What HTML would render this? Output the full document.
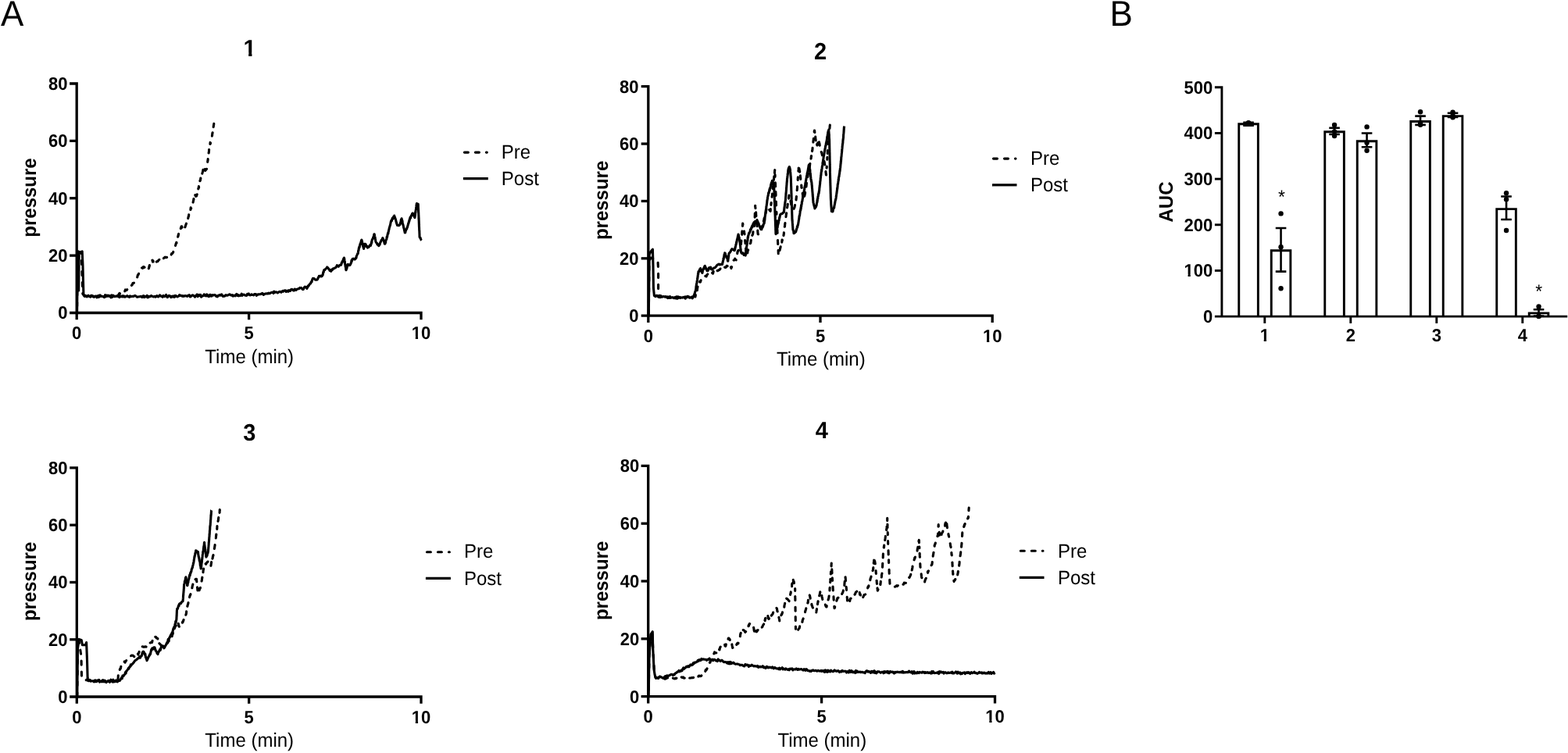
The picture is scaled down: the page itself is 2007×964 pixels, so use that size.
<!DOCTYPE html>
<html><head><meta charset="utf-8"><title>Figure</title>
<style>
html,body{margin:0;padding:0;background:#fff;}
body{width:2007px;height:964px;overflow:hidden;}
svg{display:block;}
svg text{font-family:"Liberation Sans", Arial, sans-serif;fill:#000;text-rendering:geometricPrecision;}
</style></head>
<body>
<svg width="2007" height="964" viewBox="0 0 2007 964">
<rect x="0" y="0" width="2007" height="964" fill="#fff"/>
<text font-size="44" text-anchor="start" transform="translate(1.1 33) scale(1 1.045)">A</text>
<text font-size="44" text-anchor="start" transform="translate(1420.4 32.7) scale(1 1.045)">B</text>
<path d="M89.1 107 L98.2 107 L98.2 409.3" fill="none" stroke="#000" stroke-width="3.3" stroke-linejoin="miter" stroke-linecap="butt"/>
<path d="M89.1 400.5 L539 400.5 L539 409.3" fill="none" stroke="#000" stroke-width="3.3" stroke-linejoin="miter" stroke-linecap="butt"/>
<path d="M89.1 327.12 L98.2 327.12" stroke="#000" stroke-width="3.3"/>
<path d="M89.1 253.75 L98.2 253.75" stroke="#000" stroke-width="3.3"/>
<path d="M89.1 180.38 L98.2 180.38" stroke="#000" stroke-width="3.3"/>
<path d="M318.6 400.5 L318.6 409.3" stroke="#000" stroke-width="3.3"/>
<text font-size="22" font-weight="bold" text-anchor="end" transform="translate(86.6 408.4) scale(1 1.045)">0</text>
<text font-size="22" font-weight="bold" text-anchor="end" transform="translate(86.6 335.02) scale(1 1.045)">20</text>
<text font-size="22" font-weight="bold" text-anchor="end" transform="translate(86.6 261.65) scale(1 1.045)">40</text>
<text font-size="22" font-weight="bold" text-anchor="end" transform="translate(86.6 188.28) scale(1 1.045)">60</text>
<text font-size="22" font-weight="bold" text-anchor="end" transform="translate(86.6 114.9) scale(1 1.045)">80</text>
<text font-size="22" font-weight="bold" text-anchor="middle" transform="translate(98.2 434) scale(1 1.045)">0</text>
<text font-size="22" font-weight="bold" text-anchor="middle" transform="translate(318.6 434) scale(1 1.045)">5</text>
<text font-size="22" font-weight="bold" text-anchor="middle" transform="translate(539 434) scale(1 1.045)">10</text>
<text font-size="29" font-weight="bold" text-anchor="middle" transform="translate(319.6 71.9) scale(1 1.045)">1</text>
<text font-size="24" font-weight="bold" text-anchor="middle" transform="translate(46.4 253) rotate(-90) scale(1 1.045)">pressure</text>
<text font-size="24" text-anchor="middle" transform="translate(319.2 465) scale(1 1.045)">Time (min)</text>
<path d="M594.4 195.1 L623.3 195.1" stroke="#000" stroke-width="3.1" stroke-dasharray="5 9" stroke-linecap="round"/>
<path d="M592.9 228.7 L624.8 228.7" stroke="#000" stroke-width="3.2"/>
<text font-size="24" text-anchor="start" transform="translate(641.8 203.2) scale(1 1.045)">Pre</text>
<text font-size="24" text-anchor="start" transform="translate(641.8 236.8) scale(1 1.045)">Post</text>
<path d="M98.6 400.5 L99.5 323 L100.2 321.8 L100.7 372 L101.2 323 L102.5 323.5 L105.2 321.8 L106 340 L106.9 376.4 L108.5 379.2 L109.41 378.28 L110.31 379.48 L111.22 379.95 L112.12 378.82 L113.03 378.2 L113.94 379.15 L114.84 379.56 L115.75 380.02 L116.65 378.29 L117.56 378.23 L118.47 379.73 L119.37 379.56 L120.28 380.35 L121.18 379.94 L122.09 379.12 L123 378.99 L123.9 380.85 L124.81 378.98 L125.71 378.61 L126.62 378.35 L127.52 379.27 L128.43 379.31 L129.34 378.94 L130.24 379.15 L131.15 379.4 L132.05 379.72 L132.96 380.02 L133.87 379.36 L134.77 377.86 L135.68 379.73 L136.58 378.14 L137.49 379.07 L138.4 378.09 L139.3 379.2 L140.21 378.62 L141.11 379.36 L142.02 380.85 L142.93 379.16 L143.83 379.83 L144.74 378.21 L145.64 378.98 L146.55 379.7 L147.46 379.13 L148.36 379.48 L149.27 379.28 L150.17 378.45 L151.08 379.62 L151.99 378.59 L152.89 380.6 L153.8 378.82 L154.7 379.71 L155.61 379.2 L156.51 379.91 L157.42 378.75 L158.33 379.95 L159.23 379.11 L160.14 380.15 L161.04 379.67 L161.95 379.31 L162.86 378.61 L163.76 379.78 L164.67 379.55 L165.57 380.43 L166.48 378.92 L167.39 379.62 L168.29 379.58 L169.2 379.41 L170.1 379.36 L171.01 379.34 L171.92 378.75 L172.82 378.44 L173.73 378.9 L174.63 379.64 L175.54 380.33 L176.45 379.93 L177.35 379.99 L178.26 379.78 L179.16 379.72 L180.07 379.34 L180.98 379.78 L181.88 380.53 L182.79 378.95 L183.69 378.68 L184.6 380.67 L185.5 379.38 L186.41 379.93 L187.32 379.86 L188.22 378.35 L189.13 380.85 L190.03 380.53 L190.94 379.33 L191.85 379.76 L192.75 379.3 L193.66 378.54 L194.56 379.12 L195.47 379.48 L196.38 380.04 L197.28 379.73 L198.19 379.24 L199.09 380.22 L200 379.2 L200.9 378.62 L201.8 379.77 L202.7 380 L203.6 378.94 L204.5 377.81 L205.4 378.46 L206.3 379.31 L207.2 379.52 L208.1 380.27 L209 378.35 L209.9 379.09 L210.8 379.57 L211.7 378.95 L212.6 377.41 L213.5 379.65 L214.4 380.69 L215.3 379.78 L216.2 378.33 L217.1 378.7 L218 379.17 L218.9 380.64 L219.8 379.44 L220.7 379.06 L221.6 380.13 L222.5 378.89 L223.4 380.34 L224.3 378.42 L225.2 378.56 L226.1 379.45 L227 379.97 L227.9 379.38 L228.8 379.11 L229.7 377.5 L230.6 378.33 L231.5 378.39 L232.4 378.44 L233.3 379.27 L234.2 378.57 L235.1 379.4 L236 378.86 L236.9 378.54 L237.8 378.87 L238.7 379.09 L239.6 379.4 L240.5 378.39 L241.4 378.57 L242.3 377.71 L243.2 379.92 L244.1 379.8 L245 378.57 L245.9 378.33 L246.8 377.75 L247.7 378.8 L248.6 378.81 L249.5 380.29 L250.4 378.82 L251.3 378.05 L252.2 376.97 L253.1 379.67 L254 378.74 L254.9 377.38 L255.8 378.72 L256.7 377.36 L257.6 380.21 L258.5 379.39 L259.4 378.97 L260.3 378.4 L261.2 376.92 L262.1 378.42 L263 377.33 L263.9 378.94 L264.8 376.88 L265.7 377.79 L266.6 379.37 L267.5 379.68 L268.4 377.55 L269.3 377.28 L270.2 379.08 L271.1 379.05 L272 377.66 L272.9 377.87 L273.8 377.86 L274.7 377.48 L275.6 377.85 L276.5 379.29 L277.4 378.86 L278.3 379.87 L279.2 378.26 L280.1 378.21 L281 377.56 L281.9 378.2 L282.8 377.3 L283.7 376.94 L284.6 378.78 L285.5 379.33 L286.4 378.87 L287.3 379.23 L288.2 378.41 L289.1 377.67 L290 378.2 L290.91 378.24 L291.83 377.88 L292.74 377.3 L293.66 376.85 L294.57 376.98 L295.49 378.07 L296.4 378.17 L297.32 377.68 L298.23 379.09 L299.15 378.13 L300.06 378.41 L300.98 378.87 L301.89 377.32 L302.81 376.43 L303.72 378.46 L304.64 377.35 L305.55 378.83 L306.46 378.08 L307.38 378.56 L308.29 378.36 L309.21 376.21 L310.12 378.29 L311.04 377.22 L311.95 377.14 L312.87 377.36 L313.78 378.24 L314.7 378.31 L315.61 378.38 L316.53 376.36 L317.44 377.14 L318.36 375.91 L319.27 377.46 L320.19 377.97 L321.1 377.5 L322 376.86 L322.91 377.54 L323.81 377.46 L324.72 377.98 L325.62 376.54 L326.53 376.46 L327.43 376.44 L328.33 378.26 L329.24 377.69 L330.14 376.71 L331.05 376.9 L331.95 376.75 L332.86 376.75 L333.76 376.37 L334.67 376.21 L335.57 375.44 L336.47 375.84 L337.38 377.49 L338.28 376.58 L339.19 376.16 L340.09 375.88 L341 376.02 L341.9 375.9 L342.8 376.05 L343.7 375.18 L344.6 375.7 L345.5 375.61 L346.4 374.75 L347.3 374.6 L348.2 374.33 L349.1 374.16 L350 375.51 L350.9 373.08 L351.8 374.41 L352.7 374.03 L353.6 373.91 L354.5 374.33 L355.4 374.99 L356.3 374.08 L357.2 373.8 L358.1 373.33 L359 373.57 L359.9 374.24 L360.8 373.14 L361.7 372.46 L362.6 373.2 L363.52 372.11 L364.44 372.09 L365.35 371.73 L366.27 373.46 L367.19 372.76 L368.11 372.17 L369.02 373.31 L369.94 371.58 L370.86 372.49 L371.78 372.39 L372.69 370.49 L373.61 370.34 L374.53 370.67 L375.45 371.9 L376.36 372.05 L377.28 370.02 L378.2 370.8 L379.12 371.4 L380.04 370.14 L380.95 369.94 L381.87 369.63 L382.79 369.62 L383.71 368.31 L384.62 368.73 L385.54 368.37 L386.46 369.47 L387.38 370.48 L388.29 370.38 L389.21 368.29 L390.13 367.06 L391.05 367.86 L391.96 367.27 L392.88 369.28 L393.8 367.6 L394.42 365.73 L395.04 366.04 L395.66 364.83 L396.28 363.82 L396.9 363.3 L397.41 363.13 L397.92 361.65 L398.44 360.56 L398.95 361.16 L399.46 358.7 L399.98 357.32 L400.49 356.39 L401 356.5 L402.05 356.53 L403.1 357.76 L404.15 358.3 L405.2 358.1 L405.72 358.11 L406.23 357.83 L406.75 356.96 L407.27 355.43 L407.78 355.14 L408.3 353.4 L409.32 353.88 L410.35 353.03 L411.38 354.01 L412.4 353.4 L412.66 352.57 L412.92 351.49 L413.19 352.14 L413.45 350.38 L413.71 348.59 L413.98 347.98 L414.24 348.64 L414.5 346.2 L415.2 345.36 L415.9 345.36 L416.6 344.58 L417.3 343.8 L418 343.15 L418.7 342 L419.38 342.48 L420.07 343.28 L420.75 344.28 L421.43 344.92 L422.12 346.53 L422.8 346.7 L423.67 347.32 L424.53 345.08 L425.4 345.58 L426.27 343.98 L427.13 343.66 L428 343.6 L428.84 342.85 L429.68 342.48 L430.52 341.47 L431.36 339.58 L432.2 340.5 L433.23 341.25 L434.25 339.8 L435.27 339.26 L436.3 339.4 L436.68 339.08 L437.06 337.32 L437.45 335.89 L437.83 336.4 L438.21 335.51 L438.59 333.78 L438.97 334.12 L439.35 332.94 L439.74 331.02 L440.12 332.23 L440.5 330.1 L440.65 331.25 L440.79 331.17 L440.94 333.21 L441.09 333.9 L441.24 335.42 L441.38 334.69 L441.53 337.3 L441.68 338.15 L441.82 338.89 L441.97 339.75 L442.12 341.17 L442.26 341.66 L442.41 342.16 L442.56 342.39 L442.71 344.69 L442.85 345.52 L443 345.7 L443.32 345.04 L443.65 344.02 L443.98 343.51 L444.3 340.51 L444.62 341.4 L444.95 338.68 L445.28 339.52 L445.6 338.4 L446.63 339.15 L447.67 339.71 L448.7 338.3 L449.01 337.15 L449.32 336.94 L449.64 335.74 L449.95 333.36 L450.26 334.6 L450.57 333.22 L450.89 332.43 L451.2 331.5 L452.23 331.07 L453.27 331.9 L454.3 332.1 L454.71 331.36 L455.12 331.38 L455.53 329.84 L455.94 330.31 L456.36 327.68 L456.77 326.95 L457.18 326.26 L457.59 324.89 L458 324.6 L458.21 324.74 L458.42 323.16 L458.63 320.83 L458.84 320.84 L459.06 320.62 L459.27 317.83 L459.48 317.97 L459.69 316.73 L459.9 315.9 L460.21 316.57 L460.52 314.49 L460.83 313.03 L461.14 312.05 L461.45 312.92 L461.76 310.38 L462.07 311.35 L462.38 307.86 L462.69 307.97 L463 307.2 L463.21 308 L463.42 308.6 L463.62 309.88 L463.83 311.46 L464.04 311.43 L464.25 311.82 L464.46 314.72 L464.67 315.74 L464.88 315.14 L465.08 316.78 L465.29 315.93 L465.5 318.4 L465.69 318.29 L465.87 315.72 L466.06 315.38 L466.24 316.4 L466.43 313.11 L466.61 313.13 L466.8 312.2 L467.42 312.31 L468.03 312.59 L468.65 313.91 L469.27 315.76 L469.88 315.47 L470.5 317.2 L471.24 316.19 L471.98 316.51 L472.72 315.26 L473.46 313.82 L474.2 314.1 L474.51 314.3 L474.82 312.43 L475.14 312.45 L475.45 309.81 L475.76 310.86 L476.07 307.81 L476.39 306.64 L476.7 306.68 L477.01 305.82 L477.32 305.38 L477.64 303.9 L477.95 303.86 L478.26 303.46 L478.57 301.16 L478.89 299.75 L479.2 299.8 L479.37 300.45 L479.55 302.21 L479.72 303.11 L479.89 303.19 L480.06 303.63 L480.24 305.22 L480.41 306.82 L480.58 306.53 L480.75 308.85 L480.93 308.99 L481.1 309.7 L481.72 310.77 L482.33 310.95 L482.95 313.2 L483.57 313.1 L484.18 312.84 L484.8 314.7 L485.22 314.48 L485.63 312.77 L486.05 313 L486.47 311.52 L486.88 310.12 L487.3 309.85 L487.72 308.55 L488.13 307.48 L488.55 307.25 L488.97 306.99 L489.38 305.62 L489.8 304.7 L490.14 305.5 L490.49 306 L490.83 307.64 L491.18 308.26 L491.52 309.58 L491.87 309.99 L492.21 312.07 L492.56 310.28 L492.9 312.2 L493.14 311.33 L493.39 310.88 L493.63 310.27 L493.88 307.68 L494.12 307.03 L494.37 307 L494.61 306.91 L494.86 306.08 L495.1 303.35 L495.34 303.66 L495.59 303.53 L495.83 301.85 L496.08 300.23 L496.32 299.59 L496.57 298.28 L496.81 299.21 L497.06 297.31 L497.3 296.6 L497.52 295.4 L497.74 294.15 L497.96 293.75 L498.19 292.27 L498.41 291.29 L498.63 291.03 L498.85 289.97 L499.07 289.53 L499.29 288.38 L499.51 288.18 L499.74 286.38 L499.96 285.67 L500.18 284.72 L500.4 283.6 L500.88 282.22 L501.36 282.8 L501.83 280.73 L502.31 279.18 L502.79 280.35 L503.27 279.09 L503.74 277.4 L504.22 277.64 L504.7 276.1 L504.97 277.7 L505.24 278.4 L505.51 277.96 L505.79 279.8 L506.06 279.82 L506.33 281.01 L506.6 281.93 L506.87 282.62 L507.14 284.45 L507.41 284.43 L507.69 286.31 L507.96 286.88 L508.23 287.21 L508.5 288.5 L509.53 288.45 L510.57 288.62 L511.6 287.9 L511.88 287.84 L512.16 285.95 L512.43 286.46 L512.71 284.73 L512.99 284.31 L513.27 281.57 L513.54 280.88 L513.82 281.58 L514.1 279.8 L514.32 280.58 L514.53 281.97 L514.75 283.39 L514.96 282.43 L515.17 284.67 L515.39 286.63 L515.61 286.73 L515.82 287.13 L516.03 288.37 L516.25 288.88 L516.47 290.33 L516.68 291.61 L516.89 291.43 L517.11 292.91 L517.33 293.62 L517.54 294.83 L517.75 295.8 L517.97 295.36 L518.18 297.85 L518.4 297.9 L518.79 297.68 L519.17 295.43 L519.56 295.14 L519.95 293.45 L520.34 293.41 L520.73 292.99 L521.11 291.07 L521.5 291 L521.76 289.55 L522.02 288.54 L522.27 287.74 L522.53 286.75 L522.79 285.61 L523.05 285.83 L523.31 284.34 L523.57 282.98 L523.83 283.33 L524.08 281.3 L524.34 281.39 L524.6 279.8 L525.08 278.11 L525.55 279.12 L526.02 276.96 L526.5 275.76 L526.98 275.87 L527.45 273.79 L527.92 273.12 L528.4 273 L528.82 274.13 L529.23 274.55 L529.65 276.11 L530.07 276.86 L530.48 277.87 L530.9 278.6 L531.02 277.82 L531.15 277.32 L531.27 275.91 L531.4 275.79 L531.52 274.77 L531.65 271.81 L531.77 271.06 L531.9 272.48 L532.02 270.17 L532.15 269.71 L532.27 268.59 L532.4 267.96 L532.52 268.38 L532.65 265.46 L532.77 265.1 L532.9 264.15 L533.02 262.48 L533.15 261.72 L533.27 261.24 L533.4 260.5 L534.3 260.87 L535.2 261.2 L535.24 262.4 L535.28 261.65 L535.32 262.82 L535.36 265.99 L535.4 265.6 L535.44 267.21 L535.48 267.23 L535.52 267.93 L535.56 270.82 L535.6 269.36 L535.64 270.49 L535.69 272.5 L535.73 272.94 L535.77 272.67 L535.81 274.83 L535.85 276.14 L535.89 275.45 L535.93 277.03 L535.97 278.88 L536.01 280.57 L536.05 278.56 L536.09 280.54 L536.13 281.94 L536.17 282.18 L536.21 283.09 L536.25 284.27 L536.29 285.89 L536.33 285.68 L536.37 287.94 L536.41 288.81 L536.45 289.72 L536.49 291.11 L536.53 290.56 L536.57 291.79 L536.61 293.43 L536.66 294.52 L536.7 295.19 L536.74 295.11 L536.78 295.98 L536.82 296.3 L536.86 297.82 L536.9 298.4 L536.94 299.58 L536.98 300.56 L537.02 302.31 L537.06 303.23 L537.1 303.5 L537.6 304.35 L538.1 304.44 L538.6 306.07 L539.1 307.27 L539.6 307.8" fill="none" stroke="#000" stroke-width="3.1" stroke-linejoin="round"/>
<path d="M98.6 400.5 L99.2 336 L100.2 322.5 L103.6 322.5 L104.6 336 L105.8 376 L108 379.2 L108.91 379.14 L109.83 380.34 L110.74 378.61 L111.65 377.86 L112.57 379.41 L113.48 379.7 L114.39 379.52 L115.3 379.63 L116.22 379.16 L117.13 378.81 L118.04 378.69 L118.96 379.1 L119.87 378.98 L120.78 379.97 L121.7 379.74 L122.61 378.32 L123.52 379.8 L124.43 379.25 L125.35 380.12 L126.26 380.41 L127.17 379.7 L128.09 377.94 L129 379.77 L129.91 378.1 L130.83 380.47 L131.74 378.78 L132.65 379.14 L133.57 380.66 L134.48 377.95 L135.39 379.3 L136.3 378.47 L137.22 378.89 L138.13 378.68 L139.04 379.8 L139.96 379.05 L140.87 379.55 L141.78 379.77 L142.7 377.98 L143.61 380.34 L144.52 379.1 L145.43 378.03 L146.35 378.78 L147.26 379.95 L148.17 380.04 L149.09 378.76 L150 379.2 L150.74 379.41 L151.48 378.6 L152.22 376.32 L152.96 375.28 L153.7 376 L154.52 375.3 L155.35 375.28 L156.18 374.02 L157 373.5 L157.86 372.08 L158.72 372.35 L159.58 373.3 L160.44 370.93 L161.3 371.5 L162.04 371.63 L162.78 370.67 L163.52 370.04 L164.26 369.64 L165 368.5 L165.8 367.42 L166.6 367.02 L167.4 367.66 L168.2 365.43 L169 365 L169.5 363.95 L170 362.51 L170.5 362.41 L171 362.5 L171.5 362.11 L172 360.93 L172.5 360.17 L173 359.38 L173.5 358.45 L174 358.17 L174.5 356.61 L175 356.7 L175.5 355.2 L175.89 354.3 L176.29 352.38 L176.68 351.74 L177.07 351.64 L177.46 350.6 L177.86 349.22 L178.25 348.67 L178.64 348.47 L179.04 347.77 L179.43 347.22 L179.82 345.18 L180.21 345.18 L180.61 344.78 L181 343.2 L181.83 342.88 L182.67 343.29 L183.5 341.5 L184.47 341.74 L185.43 342.63 L186.4 343.2 L187.06 343.97 L187.72 344.2 L188.38 345.09 L189.04 345.92 L189.7 346.4 L189.96 345.45 L190.21 344.19 L190.47 343.29 L190.72 342.62 L190.98 340.68 L191.23 340.93 L191.49 339.11 L191.74 338.77 L192 338 L192.43 336.3 L192.87 336.17 L193.3 334.89 L193.73 334.02 L194.17 332.74 L194.6 332.3 L195.05 333.28 L195.5 335.2 L195.95 333.76 L196.4 336.26 L196.85 336.96 L197.3 337.7 L198.04 336.8 L198.78 335.55 L199.52 336.87 L200.26 335.27 L201 334.5 L201.97 334.64 L202.95 333.15 L203.93 332.33 L204.9 332.3 L205.45 334.14 L206 334.5 L206.73 334.27 L207.47 332.83 L208.2 332.15 L208.93 332 L209.67 330.29 L210.4 330.1 L211.3 329.16 L212.2 329.34 L213.1 329.69 L214 329.22 L214.9 328.4 L215.8 327.9 L216.59 328.21 L217.37 326.57 L218.16 325.72 L218.94 326.98 L219.73 324.49 L220.51 324.63 L221.3 323.6 L221.61 323.13 L221.91 321.97 L222.22 321.19 L222.53 320.65 L222.84 319.7 L223.14 318.06 L223.45 317.61 L223.76 317.7 L224.06 316.39 L224.37 314.74 L224.68 314.22 L224.99 312.64 L225.29 311.58 L225.6 311.6 L225.82 310.37 L226.04 310.95 L226.26 308.56 L226.48 306.77 L226.7 307.16 L226.92 305.9 L227.14 306 L227.36 305.47 L227.58 303.52 L227.8 302.96 L228.02 301.39 L228.24 301.95 L228.46 299.76 L228.68 299.4 L228.9 298.5 L229.22 299.17 L229.54 296.13 L229.86 296.01 L230.18 294.99 L230.5 294.48 L230.82 293.61 L231.14 293.43 L231.46 291.88 L231.78 291.09 L232.1 289.8 L232.65 289.7 L233.2 291.55 L233.75 291.1 L234.3 293.57 L234.85 293.44 L235.4 294.2 L235.74 294.03 L236.08 292.2 L236.42 291.85 L236.75 290.91 L237.09 290.4 L237.43 289.11 L237.77 287.94 L238.11 287.25 L238.45 286.22 L238.78 285.2 L239.12 284.16 L239.46 283.15 L239.8 283.3 L240.02 283.64 L240.24 280.9 L240.45 279.69 L240.67 280.17 L240.89 278.73 L241.11 277.49 L241.33 277.4 L241.55 276.94 L241.76 274.14 L241.98 274.73 L242.2 272.8 L242.52 272.29 L242.85 271.79 L243.17 269.73 L243.49 270.32 L243.82 269.06 L244.14 265.81 L244.46 267.32 L244.78 266.47 L245.11 263.7 L245.43 263.96 L245.75 262.71 L246.08 262.07 L246.4 261 L246.65 259.54 L246.91 259.68 L247.16 258.86 L247.42 257.4 L247.67 256.54 L247.92 254.53 L248.18 255.19 L248.43 253.07 L248.68 253.06 L248.94 251.62 L249.19 252.81 L249.45 250.4 L249.7 249.5 L250.6 251.31 L251.5 251 L251.8 249.99 L252.1 248.98 L252.4 248.51 L252.7 246.99 L253 246 L253.21 246.62 L253.41 244.05 L253.62 244.36 L253.82 241.52 L254.03 240.8 L254.24 240.94 L254.44 238.64 L254.65 240 L254.86 238.1 L255.06 236.88 L255.27 237.12 L255.48 234.63 L255.68 233.56 L255.89 231.6 L256.09 230.9 L256.3 231.3 L256.54 230.23 L256.78 228.15 L257.01 229.21 L257.25 228.5 L257.49 227.26 L257.73 224.97 L257.97 224.62 L258.2 223.39 L258.44 223.95 L258.68 223.3 L258.92 221.57 L259.16 220.9 L259.4 220.14 L259.63 219.61 L259.87 217.62 L260.11 216.71 L260.35 217.03 L260.59 215.97 L260.82 215.08 L261.06 213.92 L261.3 213 L261.55 214.45 L261.8 215.17 L262.05 215.34 L262.3 217.85 L262.55 218.34 L262.8 218.5 L263.4 217.61 L264 216.97 L264.6 216.3 L264.72 214.87 L264.84 213.45 L264.96 212.74 L265.09 211.52 L265.21 211.11 L265.33 210.83 L265.45 209.61 L265.57 207.72 L265.69 207.62 L265.81 206.37 L265.94 205.1 L266.06 205.67 L266.18 203.24 L266.3 203 L266.41 202.69 L266.51 199.97 L266.62 200.39 L266.73 198.77 L266.83 198.98 L266.94 197.66 L267.04 195.91 L267.15 195.95 L267.26 195.45 L267.36 194.55 L267.47 193.71 L267.57 191.51 L267.68 192.31 L267.79 189.48 L267.89 188.85 L268 188 L268.22 186.08 L268.44 186.11 L268.66 184.39 L268.88 184.59 L269.1 182.43 L269.32 184.06 L269.54 182.46 L269.76 182.13 L269.98 180.96 L270.2 179.39 L270.42 178.73 L270.64 177.67 L270.86 175.36 L271.08 174.97 L271.3 174.9 L271.44 173.72 L271.58 173.72 L271.72 171.19 L271.86 171.35 L271.99 169.9 L272.13 169.89 L272.27 168.98 L272.41 166.81 L272.55 165.82 L272.69 166.71 L272.83 165.5 L272.97 163.83 L273.11 163.51 L273.24 162.05 L273.38 161.41 L273.52 159.89 L273.66 159.62 L273.8 158.3" fill="none" stroke="#000" stroke-width="3.1" stroke-linejoin="round" stroke-dasharray="5 9" stroke-dashoffset="5.57" stroke-linecap="round"/>
<path d="M820.7 110.7 L829.8 110.7 L829.8 413" fill="none" stroke="#000" stroke-width="3.3" stroke-linejoin="miter" stroke-linecap="butt"/>
<path d="M820.7 404.2 L1270.2 404.2 L1270.2 413" fill="none" stroke="#000" stroke-width="3.3" stroke-linejoin="miter" stroke-linecap="butt"/>
<path d="M820.7 330.82 L829.8 330.82" stroke="#000" stroke-width="3.3"/>
<path d="M820.7 257.45 L829.8 257.45" stroke="#000" stroke-width="3.3"/>
<path d="M820.7 184.07 L829.8 184.07" stroke="#000" stroke-width="3.3"/>
<path d="M1050 404.2 L1050 413" stroke="#000" stroke-width="3.3"/>
<text font-size="22" font-weight="bold" text-anchor="end" transform="translate(817.4 412.1) scale(1 1.045)">0</text>
<text font-size="22" font-weight="bold" text-anchor="end" transform="translate(817.4 338.72) scale(1 1.045)">20</text>
<text font-size="22" font-weight="bold" text-anchor="end" transform="translate(817.4 265.35) scale(1 1.045)">40</text>
<text font-size="22" font-weight="bold" text-anchor="end" transform="translate(817.4 191.97) scale(1 1.045)">60</text>
<text font-size="22" font-weight="bold" text-anchor="end" transform="translate(817.4 118.6) scale(1 1.045)">80</text>
<text font-size="22" font-weight="bold" text-anchor="middle" transform="translate(829.8 437.8) scale(1 1.045)">0</text>
<text font-size="22" font-weight="bold" text-anchor="middle" transform="translate(1050 437.8) scale(1 1.045)">5</text>
<text font-size="22" font-weight="bold" text-anchor="middle" transform="translate(1270.2 437.8) scale(1 1.045)">10</text>
<text font-size="29" font-weight="bold" text-anchor="middle" transform="translate(1050 75.6) scale(1 1.045)">2</text>
<text font-size="24" font-weight="bold" text-anchor="middle" transform="translate(777.9 256.4) rotate(-90) scale(1 1.045)">pressure</text>
<text font-size="24" text-anchor="middle" transform="translate(1050.8 468.4) scale(1 1.045)">Time (min)</text>
<path d="M1271.5 203.1 L1300 203.1" stroke="#000" stroke-width="3.1" stroke-dasharray="5 9" stroke-linecap="round"/>
<path d="M1270 236.8 L1301.5 236.8" stroke="#000" stroke-width="3.2"/>
<text font-size="24" text-anchor="start" transform="translate(1318.9 211.1) scale(1 1.045)">Pre</text>
<text font-size="24" text-anchor="start" transform="translate(1318.9 244.7) scale(1 1.045)">Post</text>
<path d="M830.3 404 L831.2 325.9 L833 322 L835.4 319.2 L836 340 L836.4 368.5 L837.4 378.5 L838.3 379.18 L839.21 379.69 L840.11 378.23 L841.02 378.26 L841.92 379.28 L842.82 380.4 L843.73 379.52 L844.63 378.46 L845.54 378.85 L846.44 379.48 L847.34 380.32 L848.25 379.71 L849.15 379.56 L850.06 379.75 L850.96 380.15 L851.86 379.58 L852.77 380.22 L853.67 380.52 L854.58 381.63 L855.48 380.48 L856.38 381.33 L857.29 379.97 L858.19 381.45 L859.1 381.04 L860 381 L860.91 380.61 L861.81 380.97 L862.72 381.64 L863.63 380.72 L864.53 381.7 L865.44 382.04 L866.35 382.1 L867.25 382.08 L868.16 379.94 L869.07 381.11 L869.97 380.34 L870.88 381.52 L871.79 380.86 L872.69 380.96 L873.6 381.12 L874.51 380.32 L875.41 380.81 L876.32 380.2 L877.23 382.24 L878.13 380.36 L879.04 380.69 L879.95 379.36 L880.85 379.56 L881.76 380.01 L882.67 381.2 L883.57 381.16 L884.48 380.78 L885.39 380.09 L886.29 381.91 L887.2 380.5 L887.54 379.99 L887.89 378.64 L888.23 379.41 L888.58 377.36 L888.92 376.25 L889.27 375.56 L889.61 373.98 L889.96 372.95 L890.3 372.6 L890.45 372.05 L890.59 370.38 L890.74 370.36 L890.88 368.66 L891.03 366.57 L891.17 365.96 L891.32 365.35 L891.46 363.58 L891.61 364.03 L891.75 362.93 L891.9 362.2 L892.03 361.98 L892.16 359.75 L892.29 359.31 L892.42 359 L892.56 358.21 L892.69 356.01 L892.82 356.97 L892.95 354.49 L893.08 354.92 L893.21 352.92 L893.34 351.92 L893.48 350.41 L893.61 350.33 L893.74 351.05 L893.87 348.14 L894 347.7 L894.52 348.01 L895.04 347.03 L895.56 344.95 L896.08 345.24 L896.6 343.6 L896.93 345.47 L897.27 345.08 L897.6 345.76 L897.93 347.82 L898.27 348.11 L898.6 348.7 L898.97 349.41 L899.34 347.36 L899.71 345.37 L900.08 345.35 L900.45 343.68 L900.82 344.27 L901.19 343.41 L901.56 341.76 L901.93 340.58 L902.3 340.4 L902.67 341.96 L903.04 341.92 L903.41 344 L903.79 343.28 L904.16 344.7 L904.53 345.4 L904.9 346.7 L905.52 345.1 L906.14 346.56 L906.76 345.42 L907.38 342.88 L908 342.5 L908.82 343.51 L909.64 342.02 L910.46 344.68 L911.28 344.98 L912.1 344.6 L912.94 343.73 L913.78 343.1 L914.62 342.92 L915.46 342.46 L916.3 341.5 L917.07 340.46 L917.85 339.33 L918.62 338.99 L919.4 338.4 L920.44 338.09 L921.48 338.98 L922.52 338.47 L923.56 338.58 L924.6 338.4 L924.79 336.28 L924.99 336.31 L925.18 335.4 L925.38 334.4 L925.57 333.79 L925.76 332.75 L925.96 330.94 L926.15 331.85 L926.34 330.93 L926.54 328.97 L926.73 328.9 L926.93 326.85 L927.12 325.7 L927.31 325.57 L927.51 325.96 L927.7 323.9 L928.03 324.69 L928.37 324.49 L928.7 326.64 L929.03 326.89 L929.37 327.64 L929.7 329 L930.05 330.14 L930.4 329.47 L930.75 330.3 L931.1 331.41 L931.45 334.15 L931.8 334.2 L931.91 333.36 L932.02 331.92 L932.13 330.93 L932.24 330.99 L932.35 330.5 L932.46 328.11 L932.57 327.91 L932.68 328.3 L932.79 326.31 L932.9 324.9 L933.41 323.91 L933.92 323.63 L934.44 322.69 L934.95 322.33 L935.46 321.32 L935.98 319.92 L936.49 319.42 L937 318.7 L937.77 319.51 L938.55 319.23 L939.33 320.29 L940.1 320.7 L940.32 319.18 L940.54 319.88 L940.76 319.23 L940.99 316.56 L941.21 316.93 L941.43 315.55 L941.65 314.61 L941.87 313.47 L942.09 312.96 L942.31 312.62 L942.54 310.1 L942.76 310.86 L942.98 309.03 L943.2 308.3 L943.4 306.61 L943.6 306.46 L943.8 306.04 L944 304.58 L944.2 303.94 L944.4 302.56 L944.6 301.49 L944.8 301.7 L945 300 L945.3 300.43 L945.6 302.92 L945.9 303.51 L946.2 304.3 L946.32 305.05 L946.43 306.01 L946.55 306.87 L946.66 307.97 L946.78 308.88 L946.89 309.73 L947 309.33 L947.12 310.12 L947.24 312.83 L947.35 313.03 L947.47 313.99 L947.58 315.2 L947.7 315.43 L947.81 318.28 L947.92 318.06 L948.04 318.85 L948.15 319.13 L948.27 321.46 L948.38 322.25 L948.5 322.6 L949.21 324.29 L949.92 324.42 L950.64 323.74 L951.35 323.97 L952.06 326.45 L952.78 325.52 L953.49 326.5 L954.2 327.1 L954.32 326.13 L954.44 325.71 L954.56 324.85 L954.69 322.8 L954.81 322.19 L954.93 320.5 L955.05 321.27 L955.17 319.85 L955.29 317.85 L955.41 318.93 L955.54 317.29 L955.66 315.65 L955.78 315.19 L955.9 314.17 L956.02 313.77 L956.14 312.95 L956.26 311.49 L956.39 311.32 L956.51 308.53 L956.63 308.97 L956.75 308.79 L956.87 308.11 L956.99 307.11 L957.11 304.88 L957.24 303.51 L957.36 303.59 L957.48 304.44 L957.6 302 L957.96 301.39 L958.32 299.82 L958.67 298.3 L959.03 298.78 L959.39 297.51 L959.75 297.35 L960.11 296.28 L960.46 293.72 L960.82 294.37 L961.18 294.19 L961.54 292.35 L961.89 291.07 L962.25 290.25 L962.61 289.29 L962.97 290.91 L963.33 289.58 L963.68 287.28 L964.04 287.87 L964.4 286 L965.06 284.63 L965.71 284.36 L966.37 283.57 L967.03 283.33 L967.69 283.29 L968.34 283.64 L969 281.5 L969.35 282.94 L969.71 283.21 L970.06 284.28 L970.42 284.88 L970.77 286.18 L971.12 286.17 L971.48 287.85 L971.83 288.87 L972.18 290.1 L972.54 289.71 L972.89 291.48 L973.25 292.26 L973.6 292.9 L974.1 291.58 L974.6 289.98 L975.1 290.23 L975.6 290.49 L976.1 288.89 L976.6 289.84 L977.1 287.97 L977.6 286.28 L978.1 286 L978.22 285.06 L978.34 284.56 L978.46 283.67 L978.58 282.26 L978.71 281.86 L978.83 282.14 L978.95 280.38 L979.07 278.95 L979.19 277.59 L979.31 275.75 L979.43 276.25 L979.55 274.93 L979.67 274.29 L979.79 273.03 L979.92 273.08 L980.04 272.4 L980.16 270.23 L980.28 268.84 L980.4 269.15 L980.52 269.02 L980.64 267.42 L980.76 266.57 L980.88 264.33 L981.01 264.03 L981.13 263.94 L981.25 262.89 L981.37 261.72 L981.49 261.23 L981.61 260.54 L981.73 259.09 L981.85 257.62 L981.97 256.22 L982.09 256.47 L982.22 255.3 L982.34 254.4 L982.46 254.42 L982.58 252.26 L982.7 251.8 L982.95 250.74 L983.2 250.51 L983.44 248.52 L983.69 246.73 L983.94 246.98 L984.19 247.05 L984.43 245.15 L984.68 244.52 L984.93 242.48 L985.18 243.76 L985.43 240.77 L985.67 240.65 L985.92 240.11 L986.17 240.73 L986.42 238.53 L986.67 237.05 L986.91 235.61 L987.16 235.56 L987.41 234.01 L987.66 233.55 L987.9 233.14 L988.15 233.08 L988.4 231.3 L988.73 231.51 L989.06 234.23 L989.39 232.85 L989.71 236.59 L990.04 235.72 L990.37 236.88 L990.7 238.1 L990.73 238.69 L990.77 240.1 L990.8 240.8 L990.84 241.51 L990.87 242.15 L990.9 243.17 L990.94 244.5 L990.97 244.99 L991 245.78 L991.04 246.16 L991.07 248.1 L991.11 249.34 L991.14 249.17 L991.17 251.51 L991.21 251.68 L991.24 252.69 L991.28 252.31 L991.31 254.86 L991.34 256.22 L991.38 257.61 L991.41 256.71 L991.44 258.01 L991.48 259.48 L991.51 260.24 L991.55 260.32 L991.58 261.72 L991.61 263.27 L991.65 263.88 L991.68 264.35 L991.71 266.04 L991.75 265.15 L991.78 267.42 L991.82 267.55 L991.85 268.66 L991.88 270.4 L991.92 271.96 L991.95 271.96 L991.99 272.64 L992.02 274.61 L992.05 274.89 L992.09 273.71 L992.12 275.74 L992.15 276.61 L992.19 277.51 L992.22 277.83 L992.26 280.25 L992.29 280.83 L992.32 282.84 L992.36 282.32 L992.39 283.51 L992.42 283.8 L992.46 285.95 L992.49 287.03 L992.53 288.23 L992.56 288.67 L992.59 288.45 L992.63 290.62 L992.66 290.04 L992.7 291.15 L992.73 292.36 L992.76 294.86 L992.8 293.81 L992.83 294.51 L992.86 296.28 L992.9 297.85 L992.93 298.32 L992.97 299.22 L993 299.7 L993.2 298.25 L993.41 297.67 L993.61 297.95 L993.81 296.23 L994.02 294.81 L994.22 294.12 L994.42 294.41 L994.63 293.78 L994.83 291.96 L995.04 290.21 L995.24 291.05 L995.44 288.54 L995.65 288.16 L995.85 287.49 L996.05 286.3 L996.26 285.28 L996.46 285.64 L996.66 283.83 L996.87 281.72 L997.07 281.41 L997.28 281.84 L997.48 279.91 L997.68 278.42 L997.89 278.87 L998.09 277.68 L998.29 276.47 L998.5 275.94 L998.7 274.6 L999.6 273.87 L1000.5 273.74 L1001.4 273.5 L1002.3 272.18 L1003.2 272 L1003.32 272.02 L1003.44 269.53 L1003.56 270.81 L1003.68 268.52 L1003.81 267.84 L1003.93 265.84 L1004.05 266.33 L1004.17 264.31 L1004.29 264.34 L1004.41 263.12 L1004.53 261.64 L1004.65 262.55 L1004.77 260.54 L1004.89 259.17 L1005.02 258.38 L1005.14 257.96 L1005.26 256.88 L1005.38 256.54 L1005.5 255 L1005.57 253.73 L1005.64 253.35 L1005.71 251.93 L1005.79 250.85 L1005.86 250.98 L1005.93 248.92 L1006 247.42 L1006.07 248.08 L1006.14 246.34 L1006.21 246.16 L1006.29 245.21 L1006.36 244.26 L1006.43 243.04 L1006.5 243.14 L1006.57 240.4 L1006.64 241.01 L1006.71 239.17 L1006.79 238.55 L1006.86 237.12 L1006.93 237.09 L1007 235.89 L1007.07 234.32 L1007.14 233.74 L1007.21 233.11 L1007.29 231.75 L1007.36 232.4 L1007.43 230.39 L1007.5 229 L1007.62 227.86 L1007.74 227.91 L1007.86 226.46 L1007.99 224.99 L1008.11 224.18 L1008.23 222.39 L1008.35 223.09 L1008.47 222.69 L1008.59 220.65 L1008.71 219.23 L1008.84 217.66 L1008.96 217.08 L1009.08 216.99 L1009.2 216 L1009.57 214.79 L1009.93 214.29 L1010.3 213.5 L1010.57 213.86 L1010.85 215.2 L1011.12 216.03 L1011.4 217 L1011.48 218.11 L1011.55 218.96 L1011.62 219.95 L1011.7 220.17 L1011.77 221.45 L1011.85 221.72 L1011.92 223.13 L1012 224.37 L1012.07 225.61 L1012.15 225.3 L1012.22 226.49 L1012.3 228 L1012.33 228.62 L1012.36 229.07 L1012.39 230.63 L1012.42 231.62 L1012.45 232.18 L1012.48 234.72 L1012.52 234.23 L1012.55 235.61 L1012.58 235.14 L1012.61 237.86 L1012.64 238.43 L1012.67 239.27 L1012.7 238.58 L1012.73 240.94 L1012.76 241.44 L1012.79 243.11 L1012.82 243.73 L1012.85 244.31 L1012.88 245.27 L1012.92 247.37 L1012.95 248.2 L1012.98 247.18 L1013.01 248.98 L1013.04 250.64 L1013.07 250.84 L1013.1 252 L1013.13 253.17 L1013.15 253.64 L1013.18 255.89 L1013.21 256.16 L1013.24 256.44 L1013.26 258.45 L1013.29 258.83 L1013.32 260.44 L1013.35 259.86 L1013.37 260.04 L1013.4 262.54 L1013.43 262.91 L1013.45 262.59 L1013.48 263.1 L1013.51 265.66 L1013.54 266.55 L1013.56 266.85 L1013.59 267.98 L1013.62 269.29 L1013.65 269.15 L1013.67 271.88 L1013.7 271.02 L1013.73 272.84 L1013.75 273.73 L1013.78 274.28 L1013.81 274.99 L1013.84 277.02 L1013.86 276.22 L1013.89 278.23 L1013.92 280.25 L1013.95 279.51 L1013.97 279.88 L1014 281.8 L1014.08 282.44 L1014.15 282.14 L1014.23 284.12 L1014.31 284.78 L1014.38 285.96 L1014.46 286.85 L1014.54 288.81 L1014.62 289.37 L1014.69 289.57 L1014.77 292.11 L1014.85 291.48 L1014.92 294.11 L1015 294 L1015.26 294.61 L1015.52 295.23 L1015.78 296.48 L1016.04 298.7 L1016.3 298.6 L1017.1 298.08 L1017.9 297.34 L1018.7 296.7 L1018.98 294.65 L1019.26 294.85 L1019.54 293.72 L1019.82 292.75 L1020.1 291.53 L1020.38 290.04 L1020.66 291.1 L1020.94 288.61 L1021.22 288.77 L1021.5 287.4 L1021.66 286.89 L1021.81 285.67 L1021.97 284.72 L1022.12 284.14 L1022.28 282.52 L1022.43 281.77 L1022.59 281.12 L1022.74 280.09 L1022.9 278.81 L1023.06 276.53 L1023.21 277.13 L1023.37 275.36 L1023.52 276.1 L1023.68 275.23 L1023.83 273.59 L1023.99 272.67 L1024.14 270.14 L1024.3 270.6 L1024.47 269.57 L1024.65 268.22 L1024.83 269.1 L1025 265.97 L1025.17 267.48 L1025.35 264.91 L1025.52 262.68 L1025.7 264.43 L1025.88 262.09 L1026.05 261.57 L1026.22 261.15 L1026.4 258.35 L1026.57 258.18 L1026.75 257.68 L1026.92 257.54 L1027.1 255.7 L1027.27 254.67 L1027.45 254.26 L1027.62 251.69 L1027.8 252.34 L1027.97 250.39 L1028.15 249.86 L1028.33 249.24 L1028.5 248.85 L1028.67 246.81 L1028.85 246.66 L1029.03 245.2 L1029.2 244.92 L1029.38 243.23 L1029.55 243.58 L1029.73 240.94 L1029.9 240.7 L1030.06 239.11 L1030.22 239.84 L1030.38 237.55 L1030.54 237.62 L1030.7 236.76 L1030.87 234.21 L1031.03 234.29 L1031.19 233.27 L1031.35 232.62 L1031.51 230.78 L1031.67 231.05 L1031.83 230.17 L1031.99 228.37 L1032.15 228.26 L1032.31 227.51 L1032.47 225.27 L1032.63 225.53 L1032.8 225.31 L1032.96 224.31 L1033.12 222.14 L1033.28 221.47 L1033.44 221.13 L1033.6 220.2 L1033.78 219.59 L1033.96 218.95 L1034.14 217.52 L1034.32 217.1 L1034.5 215.16 L1034.68 215.98 L1034.86 213.65 L1035.04 212.19 L1035.22 211.54 L1035.4 211 L1035.64 210.76 L1035.88 212.49 L1036.12 213.79 L1036.36 215.35 L1036.6 216 L1036.69 217.7 L1036.78 217.23 L1036.87 218.22 L1036.96 220.13 L1037.05 221.27 L1037.15 221.99 L1037.24 222.55 L1037.33 222.47 L1037.42 223.81 L1037.51 224.01 L1037.6 226 L1037.73 226.43 L1037.87 228.7 L1038 229.84 L1038.13 229.47 L1038.27 231.01 L1038.4 232.44 L1038.53 231.67 L1038.67 232.38 L1038.8 233.79 L1038.93 233.69 L1039.07 236.56 L1039.2 237 L1039.28 237.86 L1039.35 238.65 L1039.42 239.83 L1039.5 241.06 L1039.58 241.64 L1039.65 241.73 L1039.73 243.97 L1039.8 244.08 L1039.88 245.58 L1039.95 245.84 L1040.03 247.26 L1040.1 247.09 L1040.17 249.2 L1040.25 249.84 L1040.33 251.73 L1040.4 251.35 L1040.47 252.23 L1040.55 254.26 L1040.62 253.33 L1040.7 256.08 L1040.78 256.51 L1040.85 257.18 L1040.92 258.51 L1041 259.4 L1041.24 260.11 L1041.47 260.61 L1041.71 262.68 L1041.95 262.5 L1042.19 264.14 L1042.43 264.86 L1042.66 265.41 L1042.9 266.9 L1043.43 265.63 L1043.97 265.46 L1044.5 264.5 L1044.74 263.2 L1044.98 263.37 L1045.22 262.01 L1045.46 260.08 L1045.7 259.4 L1045.88 259.13 L1046.05 256 L1046.23 257.76 L1046.4 254.73 L1046.58 253.81 L1046.75 254.55 L1046.92 251.71 L1047.1 251.4 L1047.28 251.21 L1047.45 248.61 L1047.62 249.02 L1047.8 248.82 L1047.97 246.76 L1048.15 247.35 L1048.33 244.78 L1048.5 244.5 L1048.6 244.56 L1048.71 242.95 L1048.81 241.86 L1048.91 240.7 L1049.02 239.28 L1049.12 239.8 L1049.23 237.34 L1049.33 237.26 L1049.43 236.86 L1049.54 235.79 L1049.64 235.04 L1049.74 233.22 L1049.85 231.87 L1049.95 232.02 L1050.06 230.85 L1050.16 230.81 L1050.26 227.79 L1050.37 228.25 L1050.47 227.64 L1050.57 226.13 L1050.68 224.43 L1050.78 224.68 L1050.89 224.49 L1050.99 222.38 L1051.09 221.32 L1051.2 220.36 L1051.3 220.2 L1051.44 218.54 L1051.58 217.05 L1051.72 218.95 L1051.86 216.28 L1052 216.34 L1052.14 215.4 L1052.28 213.26 L1052.42 213.13 L1052.56 213.08 L1052.7 211.8 L1052.84 210.64 L1052.98 208.51 L1053.12 207.64 L1053.26 207.19 L1053.4 207.31 L1053.54 204.8 L1053.68 204.84 L1053.82 204.25 L1053.96 203.08 L1054.1 201.6 L1054.26 200.69 L1054.42 199.34 L1054.58 199.39 L1054.74 197.78 L1054.9 197.37 L1055.07 195.86 L1055.23 194.95 L1055.39 194.1 L1055.55 192.83 L1055.71 193.28 L1055.87 190.78 L1056.03 191.11 L1056.19 189.64 L1056.35 189.39 L1056.51 187 L1056.67 187.26 L1056.83 186.4 L1057 186.46 L1057.16 185.29 L1057.32 183.94 L1057.48 182.74 L1057.64 181.93 L1057.8 181 L1057.97 180.78 L1058.14 180.05 L1058.31 178.63 L1058.49 178.13 L1058.66 175.31 L1058.83 176.1 L1059 175.89 L1059.17 173.66 L1059.34 172.25 L1059.51 172.69 L1059.69 169.5 L1059.86 170.7 L1060.03 168.12 L1060.2 168 L1060.5 167.4 L1060.8 166.1 L1060.85 166.24 L1060.91 169.01 L1060.96 168.94 L1061.01 169.41 L1061.07 170.73 L1061.12 172.63 L1061.17 173.67 L1061.23 173.7 L1061.28 174.31 L1061.33 176.44 L1061.39 176.42 L1061.44 176.85 L1061.49 179.51 L1061.55 178 L1061.6 180 L1061.62 181.18 L1061.64 182.99 L1061.66 183.1 L1061.67 183.9 L1061.69 185.29 L1061.71 184.88 L1061.73 186.47 L1061.75 187.37 L1061.77 189.01 L1061.79 189.56 L1061.81 190.21 L1061.82 191.94 L1061.84 192.92 L1061.86 192.07 L1061.88 195.29 L1061.9 195.01 L1061.92 195.34 L1061.94 197.77 L1061.96 195.88 L1061.97 197.58 L1061.99 199.53 L1062.01 199.79 L1062.03 200.36 L1062.05 201.91 L1062.07 204.05 L1062.09 203.96 L1062.11 205.43 L1062.12 206.28 L1062.14 206.67 L1062.16 207.63 L1062.18 208.06 L1062.2 209.59 L1062.22 210.9 L1062.24 211.14 L1062.26 212.16 L1062.28 213.44 L1062.29 214.07 L1062.31 215.16 L1062.33 214.58 L1062.35 217.04 L1062.37 216.57 L1062.39 219.04 L1062.41 219.41 L1062.42 220.13 L1062.44 220.51 L1062.46 222.9 L1062.48 222.9 L1062.5 224 L1062.53 224.71 L1062.55 224.63 L1062.58 227.9 L1062.61 227.38 L1062.63 228.08 L1062.66 230.37 L1062.69 230.86 L1062.71 229.75 L1062.74 232.23 L1062.76 234.25 L1062.79 233.96 L1062.82 234.54 L1062.84 236.51 L1062.87 237.38 L1062.9 237.17 L1062.92 238.23 L1062.95 239.21 L1062.98 240.14 L1063 240.55 L1063.03 241.85 L1063.06 243.69 L1063.08 243.08 L1063.11 245.75 L1063.14 246.31 L1063.16 247.39 L1063.19 248.32 L1063.21 248.14 L1063.24 248.55 L1063.27 251.3 L1063.29 251.4 L1063.32 252.64 L1063.35 253.92 L1063.37 253.28 L1063.4 255 L1063.46 255.95 L1063.52 256.89 L1063.58 257.17 L1063.64 258.15 L1063.69 259.67 L1063.75 260.82 L1063.81 262.36 L1063.87 263.02 L1063.93 264.31 L1063.99 263.93 L1064.05 265.34 L1064.11 266.05 L1064.16 266.79 L1064.22 267.56 L1064.28 269.74 L1064.34 270.77 L1064.4 270.6 L1065.8 271 L1066.15 270.08 L1066.5 267.41 L1066.85 267.2 L1067.2 266.9 L1067.4 265.46 L1067.6 266.24 L1067.8 264.91 L1068 263.06 L1068.2 262.79 L1068.4 261.58 L1068.6 260.35 L1068.8 259.4 L1069 257.91 L1069.2 256.91 L1069.4 256.57 L1069.6 255 L1069.8 255.05 L1070 253.8 L1070.13 252.73 L1070.25 251.42 L1070.38 251.3 L1070.51 249.62 L1070.64 248.96 L1070.76 247.63 L1070.89 247.78 L1071.02 246.49 L1071.15 245.34 L1071.27 244.4 L1071.4 243.94 L1071.53 242.36 L1071.65 240.51 L1071.78 241.97 L1071.91 239.95 L1072.04 239.46 L1072.16 237.43 L1072.29 236 L1072.42 235.39 L1072.55 235.61 L1072.67 234.01 L1072.8 233.3 L1072.93 232.34 L1073.07 231.24 L1073.2 229.62 L1073.33 230.9 L1073.47 228.25 L1073.6 227.33 L1073.73 226.34 L1073.87 226.43 L1074 226.17 L1074.13 224.57 L1074.27 223.83 L1074.4 222.49 L1074.53 222.68 L1074.67 221.04 L1074.8 220.27 L1074.93 218.39 L1075.07 219.03 L1075.2 217.78 L1075.33 216.1 L1075.47 215.07 L1075.6 214.6 L1075.69 214.01 L1075.78 211.93 L1075.87 211.93 L1075.96 210.38 L1076.05 209.28 L1076.14 209.81 L1076.23 207.42 L1076.32 205.98 L1076.41 207.28 L1076.5 204.91 L1076.59 205.15 L1076.68 203.49 L1076.77 201.9 L1076.86 200.53 L1076.95 200.55 L1077.04 199.95 L1077.13 198.39 L1077.22 197.64 L1077.31 196.43 L1077.4 196 L1077.5 195.01 L1077.59 194.26 L1077.69 193.08 L1077.78 190.92 L1077.88 190.81 L1077.97 190.14 L1078.07 189.15 L1078.16 187.27 L1078.26 187.2 L1078.35 185.62 L1078.44 184.6 L1078.54 185.05 L1078.63 183.21 L1078.73 183.68 L1078.83 182.73 L1078.92 179.76 L1079.01 180.26 L1079.11 178.12 L1079.2 178.61 L1079.3 177.3 L1079.38 177.1 L1079.45 176.37 L1079.53 175.36 L1079.61 172.63 L1079.68 172.82 L1079.76 170.69 L1079.84 171.09 L1079.91 170.41 L1079.99 168.82 L1080.06 168.58 L1080.14 166.5 L1080.22 165.81 L1080.29 164.42 L1080.37 163.05 L1080.45 163.42 L1080.52 162.43 L1080.6 161.5" fill="none" stroke="#000" stroke-width="3.1" stroke-linejoin="round"/>
<path d="M830.3 404 L831 335 L833 330 L836 331 L839.5 332.2 L842.1 336.3 L842.6 344.6 L842.6 373.6 L844 379 L844.93 380.7 L845.86 378.31 L846.79 379.46 L847.71 379.09 L848.64 378.7 L849.57 379 L850.5 379.11 L851.43 379.5 L852.36 379.93 L853.29 380.47 L854.21 379.94 L855.14 380.67 L856.07 380.24 L857 380.05 L857.93 379.88 L858.86 379.38 L859.79 379 L860.71 380.19 L861.64 380.19 L862.57 380.63 L863.5 380.71 L864.43 379.59 L865.36 380.07 L866.29 379.84 L867.21 381.49 L868.14 380.73 L869.07 380.97 L870 381 L870.91 380.24 L871.82 379.92 L872.73 380.38 L873.64 380.69 L874.55 381.06 L875.45 379.55 L876.36 380.88 L877.27 379.95 L878.18 380.15 L879.09 380.25 L880 380.13 L880.91 380.74 L881.82 381.01 L882.73 380.56 L883.64 379.87 L884.55 380.53 L885.45 380.45 L886.36 380.77 L887.27 380.28 L888.18 378.84 L889.09 379.43 L890 380 L890.23 378.78 L890.47 376.88 L890.7 378.31 L890.93 377.91 L891.17 375.83 L891.4 375.54 L891.63 374.64 L891.87 373.39 L892.1 372.48 L892.33 371.83 L892.57 369.84 L892.8 367.94 L893.03 366.9 L893.27 367.81 L893.5 366.4 L893.87 365.89 L894.25 364.66 L894.62 362.3 L894.99 362.79 L895.36 362.08 L895.74 360.52 L896.11 359.84 L896.48 361.1 L896.85 359.73 L897.23 358.46 L897.6 357 L898.42 356.83 L899.24 355.86 L900.06 355.52 L900.88 355.93 L901.7 355 L902.5 353.58 L903.3 353.28 L904.1 353.92 L904.9 351.9 L905.92 350.91 L906.94 351.3 L907.96 353.26 L908.98 352.19 L910 351.9 L910.65 351.38 L911.3 349.96 L911.95 348.87 L912.6 350.22 L913.25 347.11 L913.9 348.35 L914.55 346.92 L915.2 346.7 L916.24 346.41 L917.28 344.72 L918.32 346.72 L919.36 346.27 L920.4 345.6 L921.1 345.14 L921.8 344.55 L922.5 342.52 L923.2 343 L923.9 342.55 L924.6 341.5 L925.62 341.69 L926.65 340.46 L927.68 342.17 L928.7 342.5 L929.4 341.9 L930.1 340.27 L930.8 340.5 L931.5 340.75 L932.2 339.01 L932.9 338.4 L933.42 340.27 L933.93 339.72 L934.45 340.44 L934.97 342.06 L935.48 342.05 L936 343.6 L936.26 341.44 L936.52 342.12 L936.77 341 L937.03 340.58 L937.29 338.6 L937.55 338.06 L937.81 337.91 L938.07 336.29 L938.33 335.63 L938.58 335.11 L938.84 333.49 L939.1 333.2 L939.92 332.96 L940.74 331.23 L941.56 332.32 L942.38 333.06 L943.2 331.1 L943.28 330.65 L943.36 328.9 L943.43 327.03 L943.51 326.43 L943.59 326.16 L943.67 324.84 L943.74 324.87 L943.82 323.65 L943.9 322.6 L944.32 322.35 L944.74 320.75 L945.15 320.7 L945.57 320.3 L945.99 317.73 L946.41 317.5 L946.83 316.64 L947.25 315.84 L947.66 315.95 L948.08 313.98 L948.5 313.4 L948.57 311.8 L948.65 310.55 L948.72 309.54 L948.79 309.67 L948.87 309.52 L948.94 307.96 L949.01 306.39 L949.09 305.97 L949.16 304.49 L949.23 305.04 L949.31 303.45 L949.38 303.56 L949.45 302.04 L949.53 301.1 L949.6 298.99 L949.67 299.18 L949.75 297.59 L949.82 296.55 L949.89 296.19 L949.97 296.38 L950.04 294.61 L950.11 294.85 L950.19 292.92 L950.26 290.46 L950.33 290.19 L950.41 291.11 L950.48 289.21 L950.55 287.92 L950.63 286.6 L950.7 286 L950.85 287.07 L951.01 288.18 L951.16 288.46 L951.31 289.65 L951.47 290.81 L951.62 290.7 L951.77 292.24 L951.93 292.79 L952.08 293.78 L952.23 294.5 L952.39 295.62 L952.54 296.38 L952.69 299.23 L952.85 298.7 L953 299.7 L953.08 300.93 L953.15 300.97 L953.23 302.59 L953.31 303.73 L953.38 305.51 L953.46 306.53 L953.54 305.81 L953.61 308.39 L953.69 308.03 L953.77 309.8 L953.84 309.75 L953.92 311.26 L954 311.56 L954.07 311.53 L954.15 313.89 L954.23 314.14 L954.3 315.19 L954.38 316.39 L954.46 317.49 L954.53 319.51 L954.61 318.15 L954.69 319.48 L954.76 320.07 L954.84 322.61 L954.92 322.38 L954.99 323.07 L955.07 324.77 L955.15 325.4 L955.22 326.65 L955.3 327.1 L955.59 325.21 L955.88 325.46 L956.16 325.04 L956.45 323.3 L956.74 323.81 L957.02 321.96 L957.31 320.59 L957.6 320 L957.89 319.85 L958.17 319.37 L958.46 317.38 L958.75 317.31 L959.04 315.78 L959.32 314.5 L959.61 313.58 L959.9 313.4 L960.12 313.13 L960.34 311.37 L960.56 310.94 L960.78 311.17 L961 309.81 L961.22 307.89 L961.43 307.11 L961.65 306.64 L961.87 304.01 L962.09 305.18 L962.31 303.28 L962.53 303.47 L962.75 301.53 L962.97 300.92 L963.19 300.9 L963.41 299.9 L963.63 299.88 L963.85 297.33 L964.07 296.34 L964.28 297.02 L964.5 295.44 L964.72 293.3 L964.94 292.94 L965.16 292.71 L965.38 291.17 L965.6 290.6 L965.64 288.67 L965.67 288.86 L965.71 288.24 L965.75 287.94 L965.78 286.9 L965.82 285.76 L965.86 283.65 L965.89 282.45 L965.93 281.68 L965.97 281.93 L966 281.26 L966.04 278.3 L966.08 279.18 L966.11 278.51 L966.15 278.06 L966.19 276.59 L966.22 275.82 L966.26 274.38 L966.3 273.07 L966.33 272.27 L966.37 271.43 L966.41 269.7 L966.44 269.55 L966.48 269.46 L966.52 267.56 L966.55 267.81 L966.59 265.33 L966.63 265.38 L966.66 263.57 L966.7 263.2 L966.79 264.93 L966.87 265.59 L966.96 266.68 L967.04 267.49 L967.12 268.17 L967.21 269.54 L967.3 269.77 L967.38 268.96 L967.47 271.54 L967.55 272.74 L967.63 271.7 L967.72 275.05 L967.81 275.04 L967.89 276.77 L967.98 276.7 L968.06 277.97 L968.14 278.13 L968.23 279.48 L968.32 279.41 L968.4 281.66 L968.49 282.1 L968.57 282.82 L968.66 283.67 L968.74 284.41 L968.83 286.02 L968.91 286.87 L969 287.64 L969.08 289.78 L969.17 288.89 L969.25 290.28 L969.34 290.53 L969.42 292.22 L969.5 293.2 L969.59 292.9 L969.68 295.41 L969.76 294.55 L969.85 296.58 L969.93 297.68 L970.01 297.84 L970.1 299.7 L970.62 299.89 L971.14 298.18 L971.65 296.25 L972.17 296.68 L972.69 295.86 L973.21 294.33 L973.73 293.3 L974.25 293.79 L974.76 293.79 L975.28 291.61 L975.8 290.6 L976 291.24 L976.21 287.55 L976.41 286.7 L976.61 287.09 L976.82 285.65 L977.02 285.42 L977.22 285.71 L977.43 282.67 L977.63 282.86 L977.84 281.62 L978.04 279.79 L978.24 279.68 L978.45 278.11 L978.65 277.87 L978.85 278.26 L979.06 277.04 L979.26 276.16 L979.46 274.57 L979.67 273.2 L979.87 274.21 L980.08 271.8 L980.28 271.21 L980.48 270.78 L980.69 268.99 L980.89 268.56 L981.09 267.28 L981.3 266.67 L981.5 265.5 L982.16 266.84 L982.81 265.83 L983.47 267.55 L984.13 267.74 L984.79 268.64 L985.44 269.73 L986.1 270.1 L986.2 270.3 L986.3 266.75 L986.39 268.66 L986.49 266.05 L986.59 264.95 L986.69 264.13 L986.79 263.9 L986.89 262.98 L986.98 260.64 L987.08 259.83 L987.18 260.87 L987.28 259.15 L987.38 256.9 L987.48 257.23 L987.57 256.29 L987.67 256.73 L987.77 254.11 L987.87 253.37 L987.97 252.59 L988.07 252.26 L988.16 251.45 L988.26 250.65 L988.36 250.57 L988.46 248.28 L988.56 248.65 L988.66 246.63 L988.75 246.24 L988.85 245.47 L988.95 245.18 L989.05 242.22 L989.15 243.58 L989.24 239.7 L989.34 240.11 L989.44 239.19 L989.54 238.39 L989.64 238.55 L989.74 235.34 L989.83 234.83 L989.93 235.5 L990.03 235.17 L990.13 232.16 L990.23 231.64 L990.33 231.65 L990.42 230.72 L990.52 228.2 L990.62 228.36 L990.72 227.13 L990.82 225.74 L990.92 225.59 L991.01 224.21 L991.11 222.95 L991.21 224.57 L991.31 221.7 L991.41 220.43 L991.51 221.69 L991.6 219.11 L991.7 218.15 L991.8 217.6 L991.84 216.97 L991.87 218.23 L991.91 221.4 L991.94 220.6 L991.98 221.82 L992.01 222.89 L992.05 224.11 L992.08 226.33 L992.12 224.58 L992.15 225.5 L992.19 228.81 L992.22 229.08 L992.26 230.03 L992.3 231.36 L992.33 231.24 L992.37 232.75 L992.4 233.94 L992.44 235.13 L992.47 235.12 L992.51 234.99 L992.54 236.23 L992.58 237.53 L992.61 238.3 L992.65 240.37 L992.68 239.61 L992.72 241.72 L992.76 241.92 L992.79 243.3 L992.83 245.17 L992.86 245.77 L992.9 245.46 L992.93 246.83 L992.97 248.46 L993 248.67 L993.04 250.33 L993.07 251.46 L993.11 251.09 L993.14 252.72 L993.18 254.67 L993.22 254.6 L993.25 254.51 L993.29 256.95 L993.32 256.84 L993.36 257.58 L993.39 258.98 L993.43 260.16 L993.46 260.09 L993.5 261.68 L993.53 262.79 L993.57 263.87 L993.6 264.11 L993.64 264.52 L993.68 266.05 L993.71 267.19 L993.75 267.96 L993.78 269.41 L993.82 269.88 L993.85 269.52 L993.89 271.88 L993.92 273.05 L993.96 272.02 L993.99 274.73 L994.03 275.76 L994.06 276.35 L994.1 276.9 L994.14 278.27 L994.18 278.2 L994.23 280.09 L994.27 280.96 L994.31 280.85 L994.35 282.88 L994.39 284.09 L994.43 284.11 L994.48 286.63 L994.52 286.34 L994.56 287.2 L994.6 288.39 L994.64 289 L994.69 289.74 L994.73 290.31 L994.77 290.34 L994.81 291.48 L994.85 293.46 L994.89 295.39 L994.94 294.86 L994.98 294.53 L995.02 297.57 L995.06 297.1 L995.1 298.21 L995.15 300.02 L995.19 300.8 L995.23 301.7 L995.27 302.1 L995.31 302.92 L995.35 304.72 L995.4 305.86 L995.44 306.72 L995.48 307.81 L995.52 308.58 L995.56 308.64 L995.61 310.17 L995.65 310.76 L995.69 311.02 L995.73 313.85 L995.77 314.31 L995.81 314 L995.86 314.98 L995.9 316.34 L995.94 317.14 L995.98 317.84 L996.02 318.81 L996.07 320.93 L996.11 320.55 L996.15 321.2 L996.19 323.55 L996.23 323.38 L996.27 324.17 L996.32 324.8 L996.36 326.23 L996.4 327.1 L996.62 326.06 L996.84 325.22 L997.06 324.36 L997.28 323.78 L997.5 321.77 L997.72 321.18 L997.94 320.63 L998.15 320.07 L998.37 318.96 L998.59 318.32 L998.81 317.47 L999.03 316.32 L999.25 315.43 L999.47 316.1 L999.69 313.9 L999.91 312.69 L1000.13 312.69 L1000.35 311.52 L1000.57 309.72 L1000.79 310.57 L1001.01 307 L1001.23 308.06 L1001.45 307.09 L1001.66 306.43 L1001.88 305.04 L1002.1 302.58 L1002.32 302.15 L1002.54 302.66 L1002.76 300.4 L1002.98 301.56 L1003.2 299.7 L1003.32 300.06 L1003.43 296.77 L1003.55 297.46 L1003.67 296.71 L1003.78 296.69 L1003.9 293.8 L1004.02 293.71 L1004.13 293.09 L1004.25 290.72 L1004.37 289.98 L1004.48 290.14 L1004.6 288.73 L1004.72 287.19 L1004.83 286.15 L1004.95 285.91 L1005.07 284.62 L1005.18 284.62 L1005.3 283.26 L1005.42 283.65 L1005.53 281.26 L1005.65 280.23 L1005.77 280.03 L1005.88 279.37 L1006 277.17 L1006.12 276.49 L1006.23 275.38 L1006.35 274.26 L1006.47 274.15 L1006.58 273.56 L1006.7 272.4 L1006.83 271.03 L1006.96 269.88 L1007.1 268.96 L1007.23 270.07 L1007.36 268.13 L1007.49 267.3 L1007.62 265.65 L1007.76 264.73 L1007.89 264.16 L1008.02 263.19 L1008.15 261.58 L1008.28 261.74 L1008.42 260.39 L1008.55 260.01 L1008.68 259.49 L1008.81 258.35 L1008.94 256.79 L1009.08 257.67 L1009.21 256.44 L1009.34 254.96 L1009.47 254.4 L1009.6 252.45 L1009.74 252.27 L1009.87 251.73 L1010 250 L1010.23 251.57 L1010.46 251.53 L1010.69 252.7 L1010.92 253.22 L1011.15 254.58 L1011.38 256.19 L1011.62 255.18 L1011.85 256.34 L1012.08 258.42 L1012.31 259.4 L1012.54 260.12 L1012.77 262.09 L1013 262 L1013.43 262.5 L1013.86 262.92 L1014.29 264.43 L1014.71 264.64 L1015.14 267.26 L1015.57 268.61 L1016 268 L1016.27 267.1 L1016.54 266.35 L1016.81 265.68 L1017.08 265.04 L1017.35 263.58 L1017.62 262.26 L1017.89 262.47 L1018.16 262.07 L1018.43 259.7 L1018.7 259.4 L1018.79 257.62 L1018.87 257.38 L1018.96 258.14 L1019.04 255.21 L1019.13 254.17 L1019.21 254.3 L1019.3 252.67 L1019.39 251.73 L1019.47 251.96 L1019.56 249.38 L1019.64 248.82 L1019.73 249.29 L1019.81 248.05 L1019.9 247.12 L1019.99 245.45 L1020.07 244.79 L1020.16 243.38 L1020.24 243.49 L1020.33 242.44 L1020.41 241.75 L1020.5 240 L1020.56 238.73 L1020.62 238.22 L1020.68 237.67 L1020.75 237.3 L1020.81 234.9 L1020.87 235.09 L1020.93 233.6 L1020.99 232.75 L1021.05 231.39 L1021.11 231.4 L1021.17 230.5 L1021.24 228.39 L1021.3 229.14 L1021.36 226.71 L1021.42 226.63 L1021.48 226.49 L1021.54 223.61 L1021.6 222.48 L1021.66 223.1 L1021.73 222.34 L1021.79 221.19 L1021.85 220.58 L1021.91 218.5 L1021.97 218.54 L1022.03 217.58 L1022.09 216.88 L1022.15 215 L1022.22 216.07 L1022.28 213.54 L1022.34 211.52 L1022.4 211.8 L1022.55 212.03 L1022.69 212.89 L1022.84 215.56 L1022.98 216.27 L1023.13 216.72 L1023.27 217.91 L1023.42 218.35 L1023.56 220.13 L1023.71 219.76 L1023.85 222.35 L1024 222 L1024.1 223.29 L1024.2 225.03 L1024.3 223.47 L1024.4 225.24 L1024.5 226.64 L1024.6 227.52 L1024.7 227.38 L1024.8 229.98 L1024.9 230.34 L1025 230.1 L1025.1 231.1 L1025.2 232.36 L1025.3 233.28 L1025.4 234.79 L1025.5 235.61 L1025.6 236.93 L1025.7 237.78 L1025.8 237.01 L1025.9 240.1 L1026 240 L1026.15 239.63 L1026.29 241.86 L1026.44 242.35 L1026.59 242.78 L1026.74 245.47 L1026.88 244.49 L1027.03 246.3 L1027.18 246.76 L1027.32 248.79 L1027.47 248.98 L1027.62 250.33 L1027.76 251.66 L1027.91 252.36 L1028.06 253.5 L1028.21 254.36 L1028.35 255.62 L1028.5 256 L1028.72 254.52 L1028.94 252.68 L1029.17 252.64 L1029.39 251.59 L1029.61 251.17 L1029.83 250.58 L1030.06 249.64 L1030.28 247.97 L1030.5 248 L1030.65 245.76 L1030.79 246.47 L1030.94 245.58 L1031.09 244.1 L1031.24 243.97 L1031.38 242.43 L1031.53 240.68 L1031.68 240.09 L1031.82 239.38 L1031.97 239.11 L1032.12 237.36 L1032.26 236.81 L1032.41 234.28 L1032.56 234.91 L1032.71 234.76 L1032.85 232.11 L1033 232 L1033.15 231.39 L1033.3 230.84 L1033.45 229.64 L1033.6 228.72 L1033.75 227.75 L1033.9 226.66 L1034.05 225.61 L1034.2 224.25 L1034.35 223.52 L1034.5 222.28 L1034.65 222.05 L1034.8 222.23 L1034.95 219.84 L1035.1 219.43 L1035.25 218.39 L1035.4 218.42 L1035.55 216.76 L1035.7 216.6 L1035.85 213.77 L1036 214 L1036.17 214.32 L1036.33 212.88 L1036.5 212.26 L1036.67 210.44 L1036.83 209.6 L1037 209.1 L1037.17 206.56 L1037.33 205.45 L1037.5 206.62 L1037.67 204.65 L1037.83 204.57 L1038 203 L1038.14 202.83 L1038.29 200.13 L1038.43 200.82 L1038.57 199.09 L1038.71 198.2 L1038.86 195.89 L1039 196.35 L1039.14 194.95 L1039.29 195.8 L1039.43 193.17 L1039.57 193.56 L1039.71 192.08 L1039.86 192.16 L1040 190 L1040.1 188.84 L1040.2 188.07 L1040.3 186.98 L1040.4 186.63 L1040.5 184.95 L1040.6 184.72 L1040.7 184.68 L1040.8 181.1 L1040.9 182.07 L1041 180.95 L1041.1 179.63 L1041.2 179.38 L1041.3 178.16 L1041.4 177.63 L1041.5 176.45 L1041.6 175.19 L1041.7 174.46 L1041.8 173.23 L1041.9 171.26 L1042 171.01 L1042.1 171.25 L1042.2 168.22 L1042.3 167.75 L1042.4 167.95 L1042.5 167 L1042.62 167.46 L1042.75 168.27 L1042.88 169.55 L1043 171.83 L1043.12 170.78 L1043.25 170.96 L1043.38 173.8 L1043.5 174.62 L1043.62 173.98 L1043.75 175.35 L1043.88 178.11 L1044 178 L1044.22 179.58 L1044.44 180.91 L1044.67 179.54 L1044.89 182.61 L1045.11 181.9 L1045.33 183.46 L1045.56 184.16 L1045.78 185.75 L1046 186 L1046.29 185.71 L1046.57 183.74 L1046.86 182.54 L1047.14 184.11 L1047.43 181.77 L1047.71 180.63 L1048 180 L1048.18 179.37 L1048.36 181.77 L1048.55 182.68 L1048.73 183.67 L1048.91 183.5 L1049.09 184.98 L1049.27 186.4 L1049.45 186.26 L1049.64 187.54 L1049.82 189.48 L1050 190 L1050.25 192.1 L1050.5 192.81 L1050.75 192.98 L1051 193.48 L1051.25 194.48 L1051.5 195.38 L1051.75 195.34 L1052 197 L1052.5 198.87 L1053 198.63 L1053.5 200.39 L1054 201 L1054.17 200.97 L1054.33 203.09 L1054.5 203 L1054.67 204.32 L1054.83 204.93 L1055 206.89 L1055.17 207.05 L1055.33 207.85 L1055.5 210.27 L1055.67 210.08 L1055.83 211.64 L1056 212 L1056.12 212.08 L1056.23 213.96 L1056.35 214.77 L1056.46 215.46 L1056.58 217.47 L1056.69 218.23 L1056.81 218.16 L1056.92 219.67 L1057.04 221.22 L1057.15 221.34 L1057.27 222.15 L1057.38 223.94 L1057.5 224 L1057.57 223.53 L1057.63 222.91 L1057.7 222.6 L1057.77 221.36 L1057.83 219.53 L1057.9 218.09 L1057.97 218.36 L1058.03 216.12 L1058.1 214.89 L1058.17 213.63 L1058.23 215.17 L1058.3 212.35 L1058.37 212.03 L1058.43 211.91 L1058.5 210 L1058.55 209.14 L1058.59 208.35 L1058.64 208.13 L1058.68 206.37 L1058.73 205.79 L1058.77 203.54 L1058.82 203.75 L1058.86 201.19 L1058.91 202.78 L1058.95 201.67 L1059 199.31 L1059.05 198.59 L1059.09 196.81 L1059.14 195.79 L1059.18 197.06 L1059.23 195.49 L1059.27 196.09 L1059.32 193.86 L1059.36 192.49 L1059.41 192.77 L1059.45 190.94 L1059.5 189.44 L1059.55 189.6 L1059.59 188.89 L1059.64 187.52 L1059.68 185.47 L1059.73 184.68 L1059.77 183.59 L1059.82 183.11 L1059.86 181.19 L1059.91 182.48 L1059.95 181 L1060 180 L1060.1 179.9 L1060.21 177.29 L1060.31 178.33 L1060.42 176.11 L1060.52 175.69 L1060.63 174.42 L1060.73 172.61 L1060.84 172.32 L1060.94 173.36 L1061.05 171.46 L1061.15 170.02 L1061.25 170.1 L1061.36 167.27 L1061.46 166.71 L1061.57 166.2 L1061.67 166.53 L1061.78 164.92 L1061.88 164.97 L1061.99 163.98 L1062.09 162.03 L1062.2 161.36 L1062.3 160" fill="none" stroke="#000" stroke-width="3.1" stroke-linejoin="round" stroke-dasharray="5 9" stroke-dashoffset="11.8" stroke-linecap="round"/>
<path d="M89.2 598.9 L98.3 598.9 L98.3 900.8" fill="none" stroke="#000" stroke-width="3.3" stroke-linejoin="miter" stroke-linecap="butt"/>
<path d="M89.2 892 L539 892 L539 900.8" fill="none" stroke="#000" stroke-width="3.3" stroke-linejoin="miter" stroke-linecap="butt"/>
<path d="M89.2 818.73 L98.3 818.73" stroke="#000" stroke-width="3.3"/>
<path d="M89.2 745.45 L98.3 745.45" stroke="#000" stroke-width="3.3"/>
<path d="M89.2 672.17 L98.3 672.17" stroke="#000" stroke-width="3.3"/>
<path d="M318.65 892 L318.65 900.8" stroke="#000" stroke-width="3.3"/>
<text font-size="22" font-weight="bold" text-anchor="end" transform="translate(86.6 899.9) scale(1 1.045)">0</text>
<text font-size="22" font-weight="bold" text-anchor="end" transform="translate(86.6 826.62) scale(1 1.045)">20</text>
<text font-size="22" font-weight="bold" text-anchor="end" transform="translate(86.6 753.35) scale(1 1.045)">40</text>
<text font-size="22" font-weight="bold" text-anchor="end" transform="translate(86.6 680.07) scale(1 1.045)">60</text>
<text font-size="22" font-weight="bold" text-anchor="end" transform="translate(86.6 606.8) scale(1 1.045)">80</text>
<text font-size="22" font-weight="bold" text-anchor="middle" transform="translate(98.3 925.7) scale(1 1.045)">0</text>
<text font-size="22" font-weight="bold" text-anchor="middle" transform="translate(318.65 925.7) scale(1 1.045)">5</text>
<text font-size="22" font-weight="bold" text-anchor="middle" transform="translate(539 925.7) scale(1 1.045)">10</text>
<text font-size="29" font-weight="bold" text-anchor="middle" transform="translate(319.2 564) scale(1 1.045)">3</text>
<text font-size="24" font-weight="bold" text-anchor="middle" transform="translate(46.4 744.4) rotate(-90) scale(1 1.045)">pressure</text>
<text font-size="24" text-anchor="middle" transform="translate(319.2 956.4) scale(1 1.045)">Time (min)</text>
<path d="M546.4 706.7 L575.4 706.7" stroke="#000" stroke-width="3.1" stroke-dasharray="5 9" stroke-linecap="round"/>
<path d="M544.9 740.4 L576.9 740.4" stroke="#000" stroke-width="3.2"/>
<text font-size="24" text-anchor="start" transform="translate(593.9 714.4) scale(1 1.045)">Pre</text>
<text font-size="24" text-anchor="start" transform="translate(593.9 748.5) scale(1 1.045)">Post</text>
<path d="M98.8 892 L99.5 830 L101.2 818.4 L104.3 819.4 L105.4 825.7 L109.5 825.7 L110.6 822.5 L111.5 845 L112.1 867.2 L112.6 871.3 L113.53 871.71 L114.47 871.41 L115.4 870.54 L116.33 872.18 L117.27 871.74 L118.2 871.83 L119.13 871.74 L120.07 872.89 L121 872.42 L121.93 872.7 L122.87 871.55 L123.8 871.45 L124.73 871.04 L125.67 871.7 L126.6 870.27 L127.53 873.28 L128.47 872.14 L129.4 872.13 L130.33 872.8 L131.27 871.85 L132.2 872.39 L133.13 872.85 L134.07 871.02 L135 872.3 L135.91 873.66 L136.81 872.35 L137.72 872.69 L138.62 871.33 L139.53 871.62 L140.43 873.43 L141.34 871.61 L142.24 871.67 L143.15 872.34 L144.05 873.06 L144.95 870.21 L145.86 873.02 L146.76 872.01 L147.67 872.48 L148.57 870.9 L149.48 871.92 L150.38 872.93 L151.29 871.52 L152.19 871.05 L153.1 871.5 L153.75 870.91 L154.4 869.4 L155.03 868.87 L155.66 867.33 L156.29 868.61 L156.91 865.12 L157.54 865.57 L158.17 865.49 L158.8 864 L159.38 863.66 L159.97 862.77 L160.55 860.64 L161.13 861.99 L161.72 859.14 L162.3 858.8 L162.81 858.02 L163.33 857.31 L163.84 856.54 L164.36 855.38 L164.87 856.23 L165.39 854.33 L165.9 853.5 L166.6 853.59 L167.3 850.91 L168 851.88 L168.7 850.55 L169.4 850 L170 849.6 L170.6 848.72 L171.2 848.16 L171.8 847.02 L172.4 846.41 L173 845.6 L173.88 845.08 L174.75 844.5 L175.62 843.71 L176.5 843 L177.23 842.13 L177.97 842.16 L178.7 840.57 L179.43 842.2 L180.17 840.68 L180.9 839.4 L181.33 839.7 L181.77 837.53 L182.2 835.73 L182.63 834.66 L183.07 834.31 L183.5 834 L183.95 834.44 L184.4 835.52 L184.85 836.43 L185.3 838.09 L185.75 836.85 L186.2 839.4 L186.44 841.58 L186.69 840.92 L186.93 842.18 L187.17 841.58 L187.41 844.03 L187.66 843.61 L187.9 845.6 L188.35 845.11 L188.8 844.06 L189.25 843.1 L189.7 841.94 L190.15 840.98 L190.6 840.3 L190.99 839.17 L191.38 839.22 L191.77 837.7 L192.16 836.94 L192.54 837.51 L192.93 835.04 L193.32 833.38 L193.71 831.54 L194.1 832.3 L194.8 829.95 L195.5 831 L196.2 830.88 L196.9 828.71 L197.6 828.8 L198 828.78 L198.4 830.39 L198.8 831.51 L199.2 832.99 L199.6 833.05 L200 834 L200.5 834.41 L201 836.33 L201.5 835.98 L202 837.6 L202.39 835.61 L202.77 834.98 L203.16 834.7 L203.54 833.73 L203.93 833.17 L204.31 832.32 L204.7 831.4 L205.28 832.32 L205.87 830.25 L206.45 827.55 L207.03 827.38 L207.62 827.86 L208.2 827 L209.07 826.96 L209.93 829.85 L210.8 828.8 L211.25 827.57 L211.7 826.73 L212.15 826.23 L212.6 825.08 L213.05 824.79 L213.5 823.5 L213.94 822.42 L214.38 821.98 L214.81 820.4 L215.25 818.35 L215.69 819.44 L216.12 819.52 L216.56 816.63 L217 816.5 L217.44 815.18 L217.88 815.33 L218.31 813.44 L218.75 813.04 L219.19 811.88 L219.62 811.64 L220.06 810.18 L220.5 809.4 L220.84 810.06 L221.18 807.66 L221.51 806.54 L221.85 804.74 L222.19 805.04 L222.52 803.35 L222.86 803.68 L223.2 802.3 L223.46 801.85 L223.72 802.19 L223.98 799.05 L224.24 798.88 L224.5 798.7 L224.76 795.47 L225.02 796.64 L225.28 796.67 L225.54 794.43 L225.8 793.5 L225.85 792.55 L225.91 792.58 L225.96 790.92 L226.01 789.99 L226.07 789.49 L226.12 787.31 L226.17 788.44 L226.23 785.77 L226.28 785.1 L226.33 783.87 L226.39 781.58 L226.44 781.06 L226.49 781.09 L226.55 780.43 L226.6 779.5 L227.01 779.56 L227.43 779.5 L227.84 777.58 L228.25 776.12 L228.66 774.88 L229.07 775.63 L229.49 773.25 L229.9 772.9 L230.74 772.22 L231.58 772.62 L232.42 770.82 L233.26 770.16 L234.1 769.6 L234.17 768.82 L234.23 766.55 L234.3 766.82 L234.37 766.14 L234.43 765.39 L234.5 763.93 L234.57 761.65 L234.63 761.79 L234.7 762.09 L234.77 760.01 L234.83 759.01 L234.9 759.22 L234.97 758.33 L235.03 757.14 L235.1 756.58 L235.17 755.84 L235.23 754.69 L235.3 753.68 L235.37 753.93 L235.43 750.76 L235.5 752.35 L235.57 750.02 L235.63 748.35 L235.7 748 L235.92 747.63 L236.14 746.97 L236.36 744.32 L236.58 744.47 L236.8 744.06 L237.02 743.13 L237.24 741.61 L237.46 739.83 L237.68 739.66 L237.9 738.8 L238.07 741.35 L238.23 739.9 L238.4 743.15 L238.57 742.38 L238.73 743.25 L238.9 743.8 L239.07 745.24 L239.23 746.18 L239.4 746.14 L239.57 749.39 L239.73 749.65 L239.9 749.6 L240.09 749.02 L240.28 746.84 L240.48 746.65 L240.67 745.91 L240.86 745.77 L241.05 744.18 L241.25 742.49 L241.44 742.33 L241.63 741.43 L241.82 740.7 L242.02 740.47 L242.21 738.35 L242.4 738 L242.72 735.94 L243.03 737.14 L243.35 736.09 L243.66 733.51 L243.98 734.12 L244.29 732.26 L244.61 732.3 L244.92 731.29 L245.24 728.91 L245.55 728.29 L245.87 728.08 L246.18 726.24 L246.5 726.4 L246.68 724.6 L246.85 723.94 L247.03 723.58 L247.2 722.74 L247.38 721.32 L247.55 720.83 L247.72 721.03 L247.9 719.65 L248.07 718.63 L248.25 716.89 L248.42 715.99 L248.6 714.68 L248.78 714.06 L248.95 712.42 L249.12 712.8 L249.3 711.71 L249.47 710.59 L249.65 709.73 L249.82 708.33 L250 708.96 L250.17 707.99 L250.35 707.53 L250.52 705.98 L250.7 704.8 L251.53 705.22 L252.37 706.57 L253.2 706.4 L253.37 706.35 L253.54 707.15 L253.71 709.82 L253.88 710.39 L254.05 711.11 L254.22 712.85 L254.4 712.68 L254.57 713.8 L254.74 714.84 L254.91 714.51 L255.08 716.61 L255.25 717.68 L255.42 718.07 L255.59 718.47 L255.76 719.29 L255.93 719.15 L256.1 721.07 L256.27 723.65 L256.45 724.46 L256.62 724.33 L256.79 724.71 L256.96 727.11 L257.13 727.95 L257.3 728 L257.41 727.49 L257.51 725.59 L257.62 725.82 L257.73 725 L257.83 723.01 L257.94 721.79 L258.04 721.19 L258.15 720.74 L258.26 719.95 L258.36 719.1 L258.47 717.78 L258.57 716.44 L258.68 716.16 L258.79 715.76 L258.89 714.17 L259 713.1 L259.12 712.72 L259.25 711.22 L259.38 709.81 L259.5 709.15 L259.62 708.41 L259.75 706.46 L259.88 706.57 L260 705.32 L260.12 705.02 L260.25 704.54 L260.38 703.15 L260.5 701.83 L260.62 701.39 L260.75 699.49 L260.88 699.77 L261 699.48 L261.12 697.98 L261.25 697.75 L261.38 695.39 L261.5 694.8 L261.62 694.37 L261.75 697.07 L261.88 699.19 L262 697.84 L262.12 700.59 L262.25 699.91 L262.38 702.4 L262.5 701.68 L262.62 702.85 L262.75 704.31 L262.88 703.7 L263 705.87 L263.12 706.61 L263.25 708.31 L263.38 708.71 L263.5 709.55 L263.62 710.27 L263.75 712.72 L263.88 712.58 L264 713.1 L264.34 712.3 L264.69 709.6 L265.03 711.39 L265.37 709.32 L265.71 708.53 L266.06 708.01 L266.4 706.4 L266.47 705.71 L266.54 705.72 L266.61 703.74 L266.68 703.25 L266.76 702.09 L266.83 701.53 L266.9 700.38 L266.97 699.58 L267.04 698.54 L267.11 697.59 L267.18 697.01 L267.25 695.12 L267.33 694.16 L267.4 693.83 L267.47 693.01 L267.54 692.97 L267.61 690 L267.68 691.32 L267.75 688.92 L267.82 687.79 L267.89 687.77 L267.97 686.87 L268.04 686.46 L268.11 683.26 L268.18 684.77 L268.25 683.36 L268.32 683.21 L268.39 681.07 L268.46 679.21 L268.54 679.23 L268.61 678.36 L268.68 678.15 L268.75 677.42 L268.82 674.27 L268.89 673.74 L268.96 674.12 L269.03 672.59 L269.11 672.97 L269.18 672.34 L269.25 672.05 L269.32 669.61 L269.39 669.47 L269.46 668.23 L269.53 666.98 L269.6 665.64 L269.67 665.85 L269.75 664.73 L269.82 663.18 L269.89 662.19 L269.96 660.09 L270.03 660.76 L270.1 659.72 L270.17 657.96 L270.24 658.84 L270.32 656.95 L270.39 655.24 L270.46 654.92 L270.53 653.38 L270.6 653.3" fill="none" stroke="#000" stroke-width="3.1" stroke-linejoin="round"/>
<path d="M98.8 892 L99.5 830 L101 820 L102.3 828.8 L104 840 L104.5 866 L106.4 866.6 L110 871 L110.91 870.09 L111.82 870.64 L112.73 871.38 L113.64 870.63 L114.55 870.31 L115.45 869.98 L116.36 871.72 L117.27 871.1 L118.18 870.81 L119.09 870.61 L120 869.85 L120.91 871.5 L121.82 870.79 L122.73 871.49 L123.64 872.68 L124.55 871.36 L125.45 871.57 L126.36 872.43 L127.27 871.62 L128.18 871.92 L129.09 871 L130 872 L130.91 871.15 L131.83 870.53 L132.74 872.39 L133.65 872.51 L134.57 871.15 L135.48 871.32 L136.39 871.05 L137.3 872.95 L138.22 871.94 L139.13 871.02 L140.04 871.55 L140.96 871.95 L141.87 870.11 L142.78 871.26 L143.7 871.16 L144.61 870.64 L145.52 871.12 L146.43 871.35 L147.35 870.38 L148.26 870.01 L149.17 870.88 L150.09 870.23 L151 870 L151.07 868.09 L151.14 867.83 L151.21 867.83 L151.29 864.75 L151.36 865.49 L151.43 863.55 L151.5 863 L151.77 862.83 L152.03 861.03 L152.3 860.29 L152.57 859.83 L152.83 858.26 L153.1 857.8 L153.49 856.87 L153.88 855.85 L154.26 856.05 L154.65 854.39 L155.04 852.15 L155.42 852.61 L155.81 851.63 L156.2 850.6 L156.97 849.92 L157.75 850.19 L158.53 849.32 L159.3 846.93 L160.07 848.2 L160.85 846.32 L161.62 845.67 L162.4 845.4 L163.2 844.18 L164 843.66 L164.8 843.51 L165.6 842.3 L166.38 840.57 L167.15 840.49 L167.92 839.27 L168.7 839.1 L169.57 839.14 L170.43 839.33 L171.3 840.39 L172.17 840.87 L173.03 840 L173.9 841.2 L174.41 840.41 L174.93 838.37 L175.44 838.81 L175.95 838.44 L176.46 837.01 L176.97 838.04 L177.49 835.96 L178 835 L178.47 833.5 L178.93 833.48 L179.4 831.94 L179.87 831.96 L180.33 830.72 L180.8 830.02 L181.27 827.78 L181.73 827.83 L182.2 827.7 L183.23 828.08 L184.27 828.08 L185.3 828.11 L186.33 827.76 L187.37 828.28 L188.4 827.7 L188.75 827.37 L189.1 826.21 L189.45 825.78 L189.8 824.75 L190.15 822.95 L190.5 822.5 L191.53 822.78 L192.55 823.06 L193.57 822.29 L194.6 822.5 L195.07 820.24 L195.53 820.61 L196 820.2 L196.47 817.76 L196.93 817.41 L197.4 816.8 L197.87 817.95 L198.33 816.55 L198.8 815.3 L199.58 815.51 L200.35 816.88 L201.12 817.02 L201.9 817.4 L201.9 817.28 L201.9 819.08 L201.9 821.02 L201.9 821.19 L201.9 822.5 L202.64 824.64 L203.39 823.29 L204.13 823.94 L204.87 824.66 L205.61 825.45 L206.36 826 L207.1 826.7 L208.1 827.52 L209.1 826.7 L209.94 827.44 L210.78 825.22 L211.62 823.7 L212.46 823.87 L213.3 823.6 L213.95 822.81 L214.6 823.13 L215.25 821.68 L215.9 820.49 L216.55 821.26 L217.2 818.11 L217.85 817.31 L218.5 817.4 L219.5 816.3 L219.8 816.36 L220.1 814.92 L220.4 813.61 L220.7 811.84 L221 812.08 L221.3 811.14 L221.6 809.57 L221.9 809.23 L222.2 807.24 L222.5 808.16 L222.8 805.67 L223.1 806.28 L223.4 804.06 L223.7 803.9 L224.11 802.32 L224.52 802.03 L224.93 800.76 L225.34 801.01 L225.75 799.05 L226.16 798.95 L226.57 798.52 L226.98 797.82 L227.39 796.99 L227.8 795.6 L227.98 796.43 L228.17 798.98 L228.35 798.56 L228.53 799.26 L228.72 800.91 L228.9 801.8 L229.72 802.44 L230.54 799.36 L231.36 799.55 L232.18 800.29 L233 798.7 L233.35 797.86 L233.7 795.99 L234.05 796.47 L234.4 795.59 L234.75 794.19 L235.1 793.5 L235.49 791.61 L235.88 791.41 L236.26 790.26 L236.65 790.73 L237.04 788.11 L237.42 786.66 L237.81 787.24 L238.2 786.2 L238.35 785.01 L238.51 785.2 L238.66 781.93 L238.82 782.33 L238.97 782.25 L239.13 780.5 L239.28 779.95 L239.44 778.35 L239.59 779.11 L239.75 776.12 L239.9 776.2 L240.13 775.22 L240.35 774.22 L240.58 773.34 L240.81 772.99 L241.04 771.49 L241.26 770.77 L241.49 770.16 L241.72 769.09 L241.95 768.69 L242.17 766.44 L242.4 767.37 L242.63 764.1 L242.85 763.21 L243.08 762.97 L243.31 761.75 L243.54 762.11 L243.76 761.2 L243.99 760.58 L244.22 759.65 L244.45 758.55 L244.67 758.74 L244.9 756.3 L245.12 754.91 L245.34 754.53 L245.56 753.43 L245.78 753.61 L246 751.81 L246.22 750.66 L246.44 749.46 L246.66 749.3 L246.88 747.72 L247.1 748.03 L247.32 747.04 L247.54 745.85 L247.76 745.23 L247.98 744.24 L248.2 743 L249.02 743.61 L249.85 741.94 L250.68 741.28 L251.5 741.3 L251.59 742.15 L251.67 742.98 L251.75 744.53 L251.84 744.79 L251.93 745.2 L252.01 746.74 L252.09 748.16 L252.18 748.02 L252.26 750.22 L252.35 751.66 L252.44 750.89 L252.52 752.01 L252.6 752.85 L252.69 752.66 L252.77 754.98 L252.86 754.7 L252.94 756.55 L253.03 758.18 L253.11 760.09 L253.2 759.6 L253.54 759.27 L253.88 758.01 L254.22 757.77 L254.57 756.38 L254.91 755.11 L255.25 755.41 L255.59 753.38 L255.93 753.55 L256.27 753.22 L256.62 751.14 L256.96 750.21 L257.3 749.6 L257.44 747.58 L257.58 747.84 L257.72 746.74 L257.86 746.54 L257.99 745.23 L258.13 743.76 L258.27 743.14 L258.41 742.58 L258.55 740.54 L258.69 740.44 L258.83 739.41 L258.97 738.84 L259.11 738.45 L259.24 737.52 L259.38 734.67 L259.52 734.23 L259.66 735.24 L259.8 733 L259.95 733.22 L260.11 730.86 L260.26 729.45 L260.42 729.53 L260.57 728.26 L260.73 727.14 L260.88 726.32 L261.04 726.95 L261.19 725.13 L261.35 725.12 L261.5 723.1 L262.2 722.6 L262.9 721.45 L263.6 722.29 L264.3 720.99 L265 719.82 L265.7 719.67 L266.4 718.1 L266.82 718.82 L267.25 719.14 L267.68 719.99 L268.1 720.81 L268.52 721.84 L268.95 723 L269.38 724.46 L269.8 724.7 L270.01 724.1 L270.21 722.31 L270.42 721.38 L270.62 719.44 L270.83 721.27 L271.04 718.53 L271.24 719 L271.45 716.65 L271.66 716 L271.86 715.31 L272.07 714.99 L272.28 713.79 L272.48 711.79 L272.69 711.75 L272.89 711.65 L273.1 709.8 L273.26 708.94 L273.41 707.5 L273.57 707.54 L273.73 707.08 L273.88 705.75 L274.04 704.55 L274.19 702.14 L274.35 702.41 L274.51 701.46 L274.66 701.36 L274.82 699.22 L274.98 699.23 L275.13 697.37 L275.29 696.78 L275.44 695.4 L275.6 694.8 L275.7 694.83 L275.81 693.52 L275.91 691.79 L276.02 690.62 L276.12 689.34 L276.23 689.19 L276.33 688.51 L276.43 687.67 L276.54 686.16 L276.64 685.92 L276.75 685.34 L276.85 683.89 L276.95 682.61 L277.06 682.11 L277.16 680.88 L277.27 680.62 L277.37 679.68 L277.48 679.74 L277.58 677.67 L277.68 675.77 L277.79 677.44 L277.89 674.95 L278 672.68 L278.1 673.2 L278.25 672.07 L278.4 670.86 L278.55 669.4 L278.7 669.6 L278.85 670.22 L279 667.65 L279.15 666.53 L279.3 666.63 L279.45 665.06 L279.6 663.8 L279.75 662.73 L279.9 661.51 L280.05 662.26 L280.2 660.54 L280.35 659.83 L280.5 658.15 L280.65 658.12 L280.8 656.73 L280.95 655.75 L281.1 656.31 L281.25 652.66 L281.4 653.3" fill="none" stroke="#000" stroke-width="3.1" stroke-linejoin="round" stroke-dasharray="5 9" stroke-dashoffset="13.58" stroke-linecap="round"/>
<path d="M820.6 596.4 L829.7 596.4 L829.7 900.4" fill="none" stroke="#000" stroke-width="3.3" stroke-linejoin="miter" stroke-linecap="butt"/>
<path d="M820.6 891.6 L1273.5 891.6 L1273.5 900.4" fill="none" stroke="#000" stroke-width="3.3" stroke-linejoin="miter" stroke-linecap="butt"/>
<path d="M820.6 817.8 L829.7 817.8" stroke="#000" stroke-width="3.3"/>
<path d="M820.6 744 L829.7 744" stroke="#000" stroke-width="3.3"/>
<path d="M820.6 670.2 L829.7 670.2" stroke="#000" stroke-width="3.3"/>
<path d="M1051.6 891.6 L1051.6 900.4" stroke="#000" stroke-width="3.3"/>
<text font-size="22" font-weight="bold" text-anchor="end" transform="translate(818.3 899.5) scale(1 1.045)">0</text>
<text font-size="22" font-weight="bold" text-anchor="end" transform="translate(818.3 825.7) scale(1 1.045)">20</text>
<text font-size="22" font-weight="bold" text-anchor="end" transform="translate(818.3 751.9) scale(1 1.045)">40</text>
<text font-size="22" font-weight="bold" text-anchor="end" transform="translate(818.3 678.1) scale(1 1.045)">60</text>
<text font-size="22" font-weight="bold" text-anchor="end" transform="translate(818.3 604.3) scale(1 1.045)">80</text>
<text font-size="22" font-weight="bold" text-anchor="middle" transform="translate(829.7 925.1) scale(1 1.045)">0</text>
<text font-size="22" font-weight="bold" text-anchor="middle" transform="translate(1051.6 925.1) scale(1 1.045)">5</text>
<text font-size="22" font-weight="bold" text-anchor="middle" transform="translate(1273.5 925.1) scale(1 1.045)">10</text>
<text font-size="29" font-weight="bold" text-anchor="middle" transform="translate(1051.9 561) scale(1 1.045)">4</text>
<text font-size="24" font-weight="bold" text-anchor="middle" transform="translate(777.9 743.4) rotate(-90) scale(1 1.045)">pressure</text>
<text font-size="24" text-anchor="middle" transform="translate(1052.3 956.4) scale(1 1.045)">Time (min)</text>
<path d="M1306.3 705.3 L1335 705.3" stroke="#000" stroke-width="3.1" stroke-dasharray="5 9" stroke-linecap="round"/>
<path d="M1304.8 739.3 L1336.5 739.3" stroke="#000" stroke-width="3.2"/>
<text font-size="24" text-anchor="start" transform="translate(1353.9 713.6) scale(1 1.045)">Pre</text>
<text font-size="24" text-anchor="start" transform="translate(1353.9 747.6) scale(1 1.045)">Post</text>
<path d="M830.2 891.6 L831 840 L832.9 812.4 L835.3 808.7 L835.7 830 L837.1 857.2 L838.1 863.8 L839.5 868.4 L840.34 867.67 L841.18 868.02 L842.02 868.1 L842.86 868.3 L843.7 866.6 L844.63 865.95 L845.57 866.7 L846.5 866.85 L847.43 867.57 L848.37 867.99 L849.3 868.4 L850.04 866.93 L850.78 867.48 L851.52 865.71 L852.26 866.56 L853 865.6 L853.94 864.74 L854.88 865.37 L855.81 865.25 L856.75 864.63 L857.69 864.06 L858.62 863.7 L859.56 863.22 L860.5 863.8 L861.43 864.47 L862.37 863.31 L863.3 863.78 L864.23 862.22 L865.17 861.73 L866.1 861 L867.03 860.12 L867.97 859.9 L868.9 858.48 L869.83 859.87 L870.77 859.4 L871.7 858.2 L872.48 858.84 L873.27 858.35 L874.05 856.07 L874.83 854.79 L875.62 856.44 L876.4 855.4 L877.32 855.04 L878.24 853.58 L879.16 853.06 L880.08 853.77 L881 852.6 L881.94 853.55 L882.88 852.18 L883.82 850.97 L884.76 851.71 L885.7 850.7 L886.48 851.06 L887.27 848.9 L888.05 849.87 L888.83 848.13 L889.62 848.4 L890.4 847.9 L891.33 847.81 L892.27 847.02 L893.2 845.41 L894.13 846.33 L895.07 844.53 L896 845.1 L896.93 845.47 L897.87 843.4 L898.8 844.29 L899.73 844.15 L900.67 843.84 L901.6 844.2 L902.53 844.28 L903.47 844.23 L904.4 845.3 L905.33 844.21 L906.27 844.61 L907.2 843.7 L908.12 842.97 L909.04 844.7 L909.96 844.65 L910.88 845.12 L911.8 844.2 L912.74 845.62 L913.68 844.27 L914.62 844.31 L915.56 845.08 L916.5 846 L917.42 845.31 L918.35 846.59 L919.28 843.87 L920.2 845.1 L921.14 845.43 L922.08 846.42 L923.01 845.85 L923.95 845.2 L924.89 845.89 L925.83 847.23 L926.76 847.66 L927.7 847.4 L928.63 847.43 L929.56 847.94 L930.49 848.85 L931.42 847.71 L932.35 849.57 L933.28 847.51 L934.21 849.79 L935.14 847.46 L936.07 849.66 L937 848.8 L937.94 849 L938.88 848.04 L939.82 849.46 L940.76 849.97 L941.7 850.18 L942.64 850.03 L943.58 850 L944.52 850.1 L945.46 850.58 L946.4 850.7 L947.33 851.69 L948.26 851.23 L949.19 851.49 L950.12 851.2 L951.05 852.19 L951.98 852.78 L952.91 852.87 L953.84 850.52 L954.77 850.87 L955.7 851.6 L956.63 850.96 L957.56 851.61 L958.49 853.48 L959.42 851.89 L960.35 852.38 L961.28 852.28 L962.21 851.17 L963.14 851.83 L964.07 852.32 L965 853 L965.94 852.46 L966.88 852.94 L967.82 852.95 L968.76 853.23 L969.7 852.29 L970.64 854.35 L971.58 854.06 L972.52 853.26 L973.46 853.53 L974.4 854 L975.36 853.4 L976.33 852.67 L977.29 854.66 L978.25 853.88 L979.22 855.07 L980.18 855.45 L981.15 853.38 L982.11 853.58 L983.07 854.88 L984.04 854.13 L985 854.6 L985.9 854.16 L986.8 854.42 L987.7 855.11 L988.61 853.83 L989.51 854.97 L990.41 855.8 L991.31 854.62 L992.21 854.82 L993.11 855.5 L994.02 855.96 L994.92 856.03 L995.82 855.72 L996.72 856.64 L997.62 855.01 L998.52 856.79 L999.43 856.05 L1000.33 855.45 L1001.23 854.67 L1002.13 856.97 L1003.03 856.07 L1003.93 856.36 L1004.83 857.19 L1005.74 855.77 L1006.64 856.72 L1007.54 856.85 L1008.44 857.49 L1009.34 856.56 L1010.24 857.78 L1011.15 856.05 L1012.05 856.47 L1012.95 856.08 L1013.85 855.92 L1014.75 857.98 L1015.65 856.98 L1016.56 856.8 L1017.46 857.04 L1018.36 857.06 L1019.26 855.89 L1020.16 856.74 L1021.06 857.44 L1021.97 856.29 L1022.87 857.11 L1023.77 857.03 L1024.67 856.64 L1025.57 856.44 L1026.47 857.06 L1027.37 857.75 L1028.28 858.06 L1029.18 856.54 L1030.08 857.89 L1030.98 858.28 L1031.88 856.6 L1032.78 856.94 L1033.69 858.44 L1034.59 858.64 L1035.49 858.59 L1036.39 859.43 L1037.29 858.82 L1038.19 859.39 L1039.1 858.41 L1040 858.48 L1040.9 857.86 L1041.8 858.6 L1042.71 858.71 L1043.62 858.36 L1044.53 858.22 L1045.44 859.17 L1046.34 859 L1047.25 858.42 L1048.16 858.93 L1049.07 859.04 L1049.98 859.15 L1050.89 858.33 L1051.8 859.36 L1052.71 858.54 L1053.61 859.14 L1054.52 858.54 L1055.43 860.49 L1056.34 857.89 L1057.25 859.78 L1058.16 858.28 L1059.07 860.28 L1059.98 858.13 L1060.89 859.64 L1061.79 858.99 L1062.7 859.86 L1063.61 858.18 L1064.52 858.95 L1065.43 859.56 L1066.34 859.87 L1067.25 858.79 L1068.16 857.85 L1069.06 859.03 L1069.97 858.8 L1070.88 859.41 L1071.79 859.04 L1072.7 858.61 L1073.61 859.27 L1074.52 860.51 L1075.43 859.9 L1076.34 859.2 L1077.24 859.97 L1078.15 858.46 L1079.06 859.11 L1079.97 859.52 L1080.88 859.32 L1081.79 859.15 L1082.7 859.65 L1083.61 861.05 L1084.51 859.67 L1085.42 860.04 L1086.33 861.04 L1087.24 858.24 L1088.15 859.56 L1089.06 860.49 L1089.97 858.72 L1090.88 859.55 L1091.79 860.9 L1092.69 860 L1093.6 860.11 L1094.51 861.5 L1095.42 858.54 L1096.33 860.87 L1097.24 859.06 L1098.15 860.37 L1099.06 860.54 L1099.96 860.22 L1100.87 859.94 L1101.78 860.8 L1102.69 860.52 L1103.6 860.2 L1104.51 860.86 L1105.42 860.98 L1106.33 860.7 L1107.24 861.57 L1108.14 859.92 L1109.05 858.82 L1109.96 858.88 L1110.87 860.13 L1111.78 859.28 L1112.69 859.99 L1113.6 860.36 L1114.51 861.46 L1115.41 859.37 L1116.32 860.66 L1117.23 859.3 L1118.14 861 L1119.05 858.79 L1119.96 861.51 L1120.87 860.13 L1121.78 861.89 L1122.69 860.53 L1123.59 859.66 L1124.5 860.05 L1125.41 859.87 L1126.32 860.62 L1127.23 861.34 L1128.14 860.6 L1129.05 860.19 L1129.96 860.21 L1130.86 861.76 L1131.77 859.72 L1132.68 861.01 L1133.59 859.79 L1134.5 859.86 L1135.41 860.98 L1136.32 859.26 L1137.23 861.74 L1138.14 861.79 L1139.04 859.76 L1139.95 859.66 L1140.86 860.4 L1141.77 860.29 L1142.68 859.98 L1143.59 861.34 L1144.5 862.07 L1145.41 860.47 L1146.31 861.1 L1147.22 860.25 L1148.13 860.57 L1149.04 860.16 L1149.95 860.51 L1150.86 860.72 L1151.77 860.34 L1152.68 860.77 L1153.59 860.08 L1154.49 860.91 L1155.4 859.4 L1156.31 861.04 L1157.22 860.51 L1158.13 861.04 L1159.04 860.61 L1159.95 860.61 L1160.86 860.73 L1161.76 860.38 L1162.67 860.69 L1163.58 859.16 L1164.49 860.14 L1165.4 860.7 L1166.31 860.91 L1167.21 859.73 L1168.12 862.27 L1169.03 861.85 L1169.94 859.62 L1170.84 862.05 L1171.75 861.13 L1172.66 861.25 L1173.57 861.89 L1174.47 860.43 L1175.38 861.11 L1176.29 861.54 L1177.2 860.32 L1178.1 860.7 L1179.01 860.91 L1179.92 861.15 L1180.83 860.15 L1181.73 860.84 L1182.64 860.43 L1183.55 861.55 L1184.45 860.52 L1185.36 861.49 L1186.27 860.97 L1187.18 860.55 L1188.08 861.59 L1188.99 861.4 L1189.9 860.78 L1190.81 861.76 L1191.71 862.08 L1192.62 859.7 L1193.53 861.66 L1194.44 859.59 L1195.34 861.12 L1196.25 861.69 L1197.16 861.5 L1198.06 861.44 L1198.97 861.05 L1199.88 861.61 L1200.79 860.27 L1201.69 862.55 L1202.6 859.63 L1203.51 860.99 L1204.42 860 L1205.32 860.95 L1206.23 860.71 L1207.14 860.35 L1208.05 862.02 L1208.95 860.76 L1209.86 860.7 L1210.77 861.2 L1211.67 861.83 L1212.58 861.67 L1213.49 860.94 L1214.4 861.46 L1215.3 861.39 L1216.21 861.24 L1217.12 860.8 L1218.03 861.49 L1218.93 860.19 L1219.84 862.04 L1220.75 862.02 L1221.66 861.18 L1222.56 861 L1223.47 859.92 L1224.38 861.19 L1225.29 862.06 L1226.19 860.17 L1227.1 861.4 L1228.01 861.94 L1228.92 860.91 L1229.83 862.81 L1230.74 861.82 L1231.65 862.37 L1232.56 861.27 L1233.47 861.27 L1234.38 860.78 L1235.29 862.58 L1236.2 861.2 L1237.11 861.54 L1238.02 860.54 L1238.93 861.56 L1239.84 860.68 L1240.75 861.54 L1241.66 862.37 L1242.57 861 L1243.48 860.68 L1244.39 861.66 L1245.3 861.46 L1246.21 860.89 L1247.12 860.22 L1248.03 861.53 L1248.94 861.73 L1249.85 861.61 L1250.75 862.39 L1251.66 861.73 L1252.57 861.72 L1253.48 860.42 L1254.39 861.27 L1255.3 861.28 L1256.21 860.89 L1257.12 861.99 L1258.03 861.12 L1258.94 861.85 L1259.85 861.05 L1260.76 861.76 L1261.67 862.22 L1262.58 861.79 L1263.49 862.14 L1264.4 861.51 L1265.31 860.36 L1266.22 862.14 L1267.13 861.19 L1268.04 860.65 L1268.95 862.5 L1269.86 861.44 L1270.77 861.24 L1271.68 860.42 L1272.59 862.21 L1273.5 861.4" fill="none" stroke="#000" stroke-width="3.1" stroke-linejoin="round"/>
<path d="M830.2 891.6 L831 840 L833 815 L835 812 L836 835 L837.5 860 L839 867.5 L839.93 867.49 L840.86 867.56 L841.79 867.69 L842.72 868.35 L843.65 867.86 L844.58 866.99 L845.51 868.36 L846.44 868.03 L847.37 868.16 L848.3 868.4 L849.23 868.48 L850.17 868.56 L851.1 869.21 L852.03 868.86 L852.97 868.48 L853.9 867.88 L854.83 867.69 L855.77 868.57 L856.7 869.32 L857.63 868.43 L858.57 868.33 L859.5 868.77 L860.43 867.38 L861.37 868.18 L862.3 868.4 L863.23 868.67 L864.17 868.86 L865.1 868.01 L866.03 868.36 L866.97 868.2 L867.9 868.5 L868.83 867.1 L869.77 868.2 L870.7 866.66 L871.63 866.11 L872.57 867.15 L873.5 867.5 L874.44 866.86 L875.38 868.11 L876.32 867.96 L877.25 866.65 L878.19 868.09 L879.13 866.8 L880.07 867.44 L881.01 867.29 L881.95 867.58 L882.88 868.07 L883.82 867.95 L884.76 867.74 L885.7 867.5 L886.64 867.78 L887.57 867.49 L888.51 866.54 L889.45 866.31 L890.38 866.31 L891.32 866.81 L892.25 866.12 L893.19 867.66 L894.13 865.37 L895.06 865 L896 865.6 L896.74 865.58 L897.48 865.48 L898.22 864.27 L898.96 863.95 L899.7 862.8 L900.29 863.1 L900.88 861.33 L901.46 859.7 L902.05 859.63 L902.64 859.97 L903.23 857.59 L903.81 857.92 L904.4 857.2 L904.87 856.44 L905.33 855.11 L905.8 854.91 L906.27 853.87 L906.73 854.07 L907.2 851.6 L907.57 851.19 L907.94 849.49 L908.31 848.69 L908.68 847.66 L909.05 848.07 L909.42 846.16 L909.79 845.67 L910.16 845.4 L910.53 843.53 L910.9 842.99 L911.27 841.07 L911.64 840.76 L912.01 840.28 L912.38 840.13 L912.75 839.84 L913.12 838.15 L913.49 837.5 L913.86 836.6 L914.23 836.4 L914.6 834.8 L915.55 835.9 L916.5 835.94 L917.45 835.52 L918.4 836.7 L918.77 836.49 L919.14 835.29 L919.51 835.04 L919.88 833.32 L920.25 833.87 L920.62 831.41 L920.99 831.94 L921.36 830.06 L921.73 828.78 L922.1 828.3 L922.88 826.89 L923.67 826.96 L924.45 827.45 L925.23 826.4 L926.02 825.7 L926.8 824.6 L927.4 823.96 L928 826.9 L928.6 827.3 L928.92 826.84 L929.23 825.22 L929.55 824.31 L929.87 823.9 L930.18 824.26 L930.5 821.46 L930.82 821.05 L931.13 821.45 L931.45 819.34 L931.77 818.55 L932.08 818.02 L932.4 817.1 L932.96 816.97 L933.52 818.73 L934.08 818.47 L934.64 820.68 L935.2 820.8 L935.51 821.74 L935.82 824.21 L936.13 823.8 L936.44 825.49 L936.76 824.55 L937.07 826.31 L937.38 827.56 L937.69 829.49 L938 829.2 L938.9 828.47 L939.8 830.1 L940.31 830.03 L940.82 828.99 L941.33 828.88 L941.84 827.54 L942.35 826.32 L942.85 825.15 L943.36 823.88 L943.87 824.13 L944.38 823.09 L944.89 823.88 L945.4 821.7 L945.73 820.34 L946.07 820.06 L946.4 818.9 L946.59 816.87 L946.77 816.76 L946.96 816.28 L947.15 815.74 L947.33 815.25 L947.52 813.27 L947.71 811.58 L947.89 811.75 L948.08 810.86 L948.27 809.91 L948.45 808.14 L948.64 808.49 L948.83 806.83 L949.01 806.32 L949.2 804.9 L950.13 806.43 L951.07 806.59 L952 806.8 L952.92 807.48 L953.85 809.26 L954.78 808.4 L955.7 808.7 L956.01 807.63 L956.32 807.06 L956.62 807.16 L956.93 805.35 L957.24 804.77 L957.55 804.39 L957.86 802.33 L958.17 800.62 L958.48 801.18 L958.78 800.28 L959.09 798.83 L959.4 798.4 L960.34 799.39 L961.28 799.59 L962.22 798.84 L963.16 800.28 L964.1 800.3 L964.26 801.1 L964.42 801.13 L964.58 803.42 L964.73 804 L964.89 804.44 L965.05 806.27 L965.21 807.17 L965.37 807.36 L965.52 808.98 L965.68 810.34 L965.84 810.07 L966 811.5 L966.59 811.07 L967.17 810.1 L967.76 810.94 L968.35 807.4 L968.94 808.49 L969.53 807.09 L970.11 806.53 L970.7 805.9 L971.62 806.67 L972.54 804.77 L973.46 805.76 L974.38 803.35 L975.3 803.1 L975.85 802.42 L976.4 800.91 L976.95 799.84 L977.5 799.4 L977.75 798.57 L977.99 797.46 L978.24 796.92 L978.49 794.43 L978.73 796.44 L978.98 794.04 L979.23 794.51 L979.47 791.71 L979.72 791.74 L979.97 792.21 L980.21 789.18 L980.46 787.87 L980.71 787.66 L980.95 787.5 L981.2 786.3 L981.61 787.62 L982.02 788.87 L982.43 788.62 L982.84 788.51 L983.26 790.16 L983.67 792.17 L984.08 792.46 L984.49 791.6 L984.9 793.8 L985.33 792.91 L985.76 793.06 L986.19 792.7 L986.62 790.75 L987.05 789.71 L987.48 787.76 L987.92 787.18 L988.35 786.94 L988.78 786.4 L989.21 785.59 L989.64 783.99 L990.07 782.66 L990.5 782.6 L991.26 781.3 L992.02 780.27 L992.78 780.77 L993.54 778.02 L994.3 778.8 L994.51 779.45 L994.71 780.88 L994.92 782.52 L995.12 782.38 L995.33 783.92 L995.53 783.82 L995.74 784.46 L995.94 785.39 L996.15 787.82 L996.36 788.33 L996.56 788.86 L996.77 790.94 L996.97 790.26 L997.18 791.6 L997.38 792.27 L997.59 792.78 L997.79 795.36 L998 794.7 L998.29 794.88 L998.59 791.97 L998.88 791.8 L999.17 791.5 L999.47 790.87 L999.76 788.51 L1000.06 787.04 L1000.35 786.37 L1000.64 786.78 L1000.94 785.88 L1001.23 785.32 L1001.53 783.66 L1001.82 782.47 L1002.11 781.03 L1002.41 781.81 L1002.7 780.7 L1002.92 780.08 L1003.14 779.64 L1003.35 778.62 L1003.57 777.06 L1003.79 777.26 L1004.01 775.35 L1004.22 774.1 L1004.44 773.32 L1004.66 772.4 L1004.88 770.42 L1005.09 771.17 L1005.31 770.36 L1005.53 769.05 L1005.75 767.93 L1005.96 767.81 L1006.18 767.88 L1006.4 765.8 L1007.14 766.57 L1007.88 766.92 L1008.62 767.61 L1009.36 768.71 L1010.1 769.5 L1010.27 767.68 L1010.45 767.55 L1010.62 766.75 L1010.8 767.07 L1010.98 765.5 L1011.15 764.64 L1011.33 762.48 L1011.5 762.52 L1011.67 760.32 L1011.85 760.41 L1012.02 759.55 L1012.2 757.79 L1012.38 758.79 L1012.55 756.86 L1012.73 754.2 L1012.9 754.6 L1013.04 754.05 L1013.17 752.44 L1013.31 751.79 L1013.44 751.18 L1013.58 750.19 L1013.71 747.56 L1013.85 747.24 L1013.99 747.66 L1014.12 747.09 L1014.26 746.58 L1014.39 745.57 L1014.53 741.93 L1014.66 742.97 L1014.8 741.5 L1015.15 741.1 L1015.5 744.5 L1015.85 744.49 L1016.2 744.45 L1016.55 747.59 L1016.9 747.58 L1017.25 746.74 L1017.6 749 L1017.61 750.11 L1017.63 750.3 L1017.64 751.79 L1017.65 752.29 L1017.67 754.48 L1017.68 753.43 L1017.7 755.55 L1017.71 757.51 L1017.72 756.56 L1017.74 758.19 L1017.75 759.09 L1017.76 759.37 L1017.78 761.21 L1017.79 761.73 L1017.8 761.91 L1017.82 764.71 L1017.83 764.93 L1017.85 765.16 L1017.86 765.74 L1017.87 766.54 L1017.89 768.86 L1017.9 768.8 L1017.91 770.13 L1017.93 770.58 L1017.94 772.05 L1017.95 772.44 L1017.97 773.96 L1017.98 774.2 L1018 775.81 L1018.01 776.61 L1018.02 776.96 L1018.04 777.34 L1018.05 778.19 L1018.06 779.24 L1018.08 779.97 L1018.09 782.17 L1018.1 782.44 L1018.12 784.47 L1018.13 785.82 L1018.15 785.2 L1018.16 785 L1018.17 786.72 L1018.19 787.84 L1018.2 787.76 L1018.21 789.53 L1018.23 790.81 L1018.24 791.19 L1018.25 791.88 L1018.27 792.79 L1018.28 795.48 L1018.3 795.02 L1018.31 795.46 L1018.32 796.68 L1018.34 798.51 L1018.35 798.27 L1018.36 799.99 L1018.38 801.07 L1018.39 801.99 L1018.4 803.35 L1018.42 802.89 L1018.43 804.97 L1018.45 804.53 L1018.46 805.71 L1018.47 807.73 L1018.49 808.37 L1018.5 808.7 L1019.45 808.7 L1020.4 808.7 L1020.87 807.09 L1021.33 807.54 L1021.8 805.93 L1022.27 804.95 L1022.73 804.37 L1023.2 804.22 L1023.67 801.79 L1024.13 802.75 L1024.6 801.85 L1025.07 800.54 L1025.53 800.9 L1026 799.4 L1026.25 798.95 L1026.49 797.23 L1026.74 796.31 L1026.99 796.39 L1027.23 793.97 L1027.48 793.93 L1027.73 792.84 L1027.97 792.46 L1028.22 791.69 L1028.47 790.69 L1028.71 790.59 L1028.96 789.08 L1029.21 787.83 L1029.45 786.33 L1029.7 786.3 L1029.95 785.93 L1030.21 784.92 L1030.46 784.7 L1030.71 782.28 L1030.97 781.95 L1031.22 781.02 L1031.47 780.13 L1031.73 779.32 L1031.98 777.24 L1032.23 778.14 L1032.49 777.15 L1032.74 776.61 L1032.99 776.49 L1033.25 773.85 L1033.5 773.2 L1033.73 772.24 L1033.97 771.34 L1034.2 771.76 L1034.43 768.25 L1034.67 768.87 L1034.9 766.57 L1035.13 765.13 L1035.37 764.32 L1035.6 763.83 L1035.83 764.61 L1036.07 762.33 L1036.3 762 L1036.5 762.78 L1036.7 763.06 L1036.9 765.23 L1037.1 764.97 L1037.3 767.6 L1037.5 766.92 L1037.7 768.01 L1037.9 769.57 L1038.1 770.44 L1038.3 772.35 L1038.5 772.38 L1038.7 772.38 L1038.9 773.77 L1039.1 775.1 L1039.57 775.63 L1040.03 777.47 L1040.5 778.17 L1040.97 778.75 L1041.43 780.38 L1041.9 780.7 L1042.46 781.07 L1043.02 782.08 L1043.58 783.05 L1044.14 784.73 L1044.7 784.4 L1044.86 783.4 L1045.01 782.29 L1045.17 780.87 L1045.32 781.15 L1045.48 779.32 L1045.63 779.04 L1045.79 776.54 L1045.94 777.66 L1046.1 775.07 L1046.26 774.52 L1046.41 774.87 L1046.57 772.27 L1046.72 772.21 L1046.88 771.39 L1047.03 769.7 L1047.19 770.41 L1047.34 769.58 L1047.5 767.6 L1047.73 765.29 L1047.97 764.72 L1048.2 765.37 L1048.43 762.95 L1048.67 762.66 L1048.9 762.09 L1049.13 761.55 L1049.37 759.98 L1049.6 759.27 L1049.83 757.72 L1050.07 758.24 L1050.3 756.4 L1050.52 756.94 L1050.74 758.4 L1050.95 758.69 L1051.17 760 L1051.39 760.69 L1051.61 761.58 L1051.82 761.87 L1052.04 764.02 L1052.26 765.33 L1052.48 765.39 L1052.69 766.62 L1052.91 767.57 L1053.13 768.52 L1053.35 768.97 L1053.56 769.78 L1053.78 771.12 L1054 771.4 L1054.54 772.25 L1055.09 772.32 L1055.63 773.82 L1056.17 773.28 L1056.71 775.4 L1057.26 776.49 L1057.8 777 L1058.02 776.98 L1058.24 775.34 L1058.45 775 L1058.67 773.47 L1058.89 771.87 L1059.11 770.72 L1059.32 770.14 L1059.54 768.98 L1059.76 769.5 L1059.98 768.03 L1060.19 767.69 L1060.41 766.46 L1060.63 766.26 L1060.85 765.39 L1061.06 763.31 L1061.28 762.69 L1061.5 762 L1061.56 760.71 L1061.62 759.04 L1061.69 759.73 L1061.75 759.18 L1061.81 757.43 L1061.87 756.17 L1061.94 756.37 L1062 753.15 L1062.06 753.9 L1062.12 752.97 L1062.18 751.55 L1062.25 752.01 L1062.31 750.81 L1062.37 749.03 L1062.43 748.24 L1062.5 747.12 L1062.56 746.11 L1062.62 744.64 L1062.68 745.61 L1062.74 744.45 L1062.81 743.38 L1062.87 741.14 L1062.93 742.45 L1062.99 741.47 L1063.06 739.3 L1063.12 737.62 L1063.18 736.73 L1063.24 736.72 L1063.3 734.87 L1063.37 734.58 L1063.43 734.45 L1063.49 731.72 L1063.55 733.26 L1063.62 732.04 L1063.68 729.17 L1063.74 728.13 L1063.8 728.01 L1063.86 726.57 L1063.93 726.2 L1063.99 723.93 L1064.05 724.39 L1064.11 724.9 L1064.18 721.95 L1064.24 721.62 L1064.3 720.9 L1064.35 720.77 L1064.4 723.17 L1064.45 723.47 L1064.51 725.9 L1064.56 725.6 L1064.61 726.1 L1064.66 727.66 L1064.71 727.83 L1064.76 728.16 L1064.81 730.22 L1064.86 730.8 L1064.92 731.95 L1064.97 733 L1065.02 733.29 L1065.07 734.86 L1065.12 736.69 L1065.17 735.61 L1065.22 738.51 L1065.28 738.04 L1065.33 738.58 L1065.38 741.57 L1065.43 741.05 L1065.48 742.81 L1065.53 743.33 L1065.58 742.49 L1065.64 744.67 L1065.69 745.12 L1065.74 745.46 L1065.79 746.07 L1065.84 748.3 L1065.89 749.55 L1065.94 750.32 L1065.99 750.74 L1066.05 751.31 L1066.1 752.09 L1066.15 753.3 L1066.2 754.6 L1066.27 754.81 L1066.34 756.32 L1066.41 757.38 L1066.48 757.7 L1066.55 759.09 L1066.62 759.65 L1066.68 761.11 L1066.75 762.4 L1066.82 763.1 L1066.89 764.24 L1066.96 763.68 L1067.03 765.5 L1067.1 766.89 L1067.17 768.08 L1067.24 767.44 L1067.31 769.6 L1067.38 771.27 L1067.45 771.23 L1067.52 772.22 L1067.58 773.53 L1067.65 774.32 L1067.72 775.55 L1067.79 776.06 L1067.86 777.05 L1067.93 777.32 L1068 778.8 L1068.25 777.81 L1068.51 777.94 L1068.76 776.06 L1069.01 775.22 L1069.27 774.12 L1069.52 774.15 L1069.77 772.14 L1070.03 772.5 L1070.28 770.34 L1070.53 769.39 L1070.79 769.41 L1071.04 768.49 L1071.29 767.74 L1071.55 767.41 L1071.8 765.8 L1072.72 765.13 L1073.64 765.35 L1074.56 764.02 L1075.48 765.16 L1076.4 763.9 L1076.75 763.5 L1077.09 762.58 L1077.44 761.5 L1077.78 759.97 L1078.13 759.44 L1078.47 759.18 L1078.82 757.97 L1079.16 757.22 L1079.51 755.34 L1079.85 755.57 L1080.2 754.6 L1080.3 753.18 L1080.4 751.97 L1080.5 751.69 L1080.6 749.57 L1080.7 750.42 L1080.8 749.6 L1080.9 748.03 L1081 746.44 L1081.1 745.54 L1081.2 745.16 L1081.3 742.79 L1081.4 743.53 L1081.5 742.93 L1081.6 741.32 L1081.7 740.25 L1081.8 739.79 L1081.9 738.98 L1082 737.8 L1082.08 739.47 L1082.15 739.63 L1082.23 740.04 L1082.3 741.11 L1082.38 742.47 L1082.45 744.34 L1082.53 743.93 L1082.61 744.33 L1082.68 745.36 L1082.76 745.41 L1082.83 748.02 L1082.91 747.74 L1082.98 748.74 L1083.06 749.13 L1083.14 750.64 L1083.21 752.73 L1083.29 752.32 L1083.36 752.92 L1083.44 755.18 L1083.51 755.72 L1083.59 757.17 L1083.66 758.3 L1083.74 758.68 L1083.82 758.69 L1083.89 760.42 L1083.97 761.76 L1084.04 761.91 L1084.12 762.22 L1084.19 764.91 L1084.27 764.75 L1084.35 765.66 L1084.42 766.87 L1084.5 768.49 L1084.57 768.86 L1084.65 769.35 L1084.72 770.97 L1084.8 771.4 L1085.39 772.2 L1085.97 770.97 L1086.56 769.77 L1087.15 767.81 L1087.74 769.44 L1088.33 766.36 L1088.91 766.24 L1089.5 765.8 L1090.24 764.55 L1090.98 765.42 L1091.72 763.81 L1092.46 761.76 L1093.2 762 L1093.76 761.45 L1094.32 760.9 L1094.88 759.56 L1095.44 758.19 L1096 757.79 L1096.56 757.25 L1097.12 756.84 L1097.68 755.72 L1098.24 755.85 L1098.8 754.6 L1099.09 754.8 L1099.38 755.11 L1099.68 756.67 L1099.97 758.99 L1100.26 758.51 L1100.55 761.31 L1100.85 760.97 L1101.14 760.68 L1101.43 761.77 L1101.72 763.39 L1102.02 763.25 L1102.31 766.48 L1102.6 765.8 L1103.3 764.41 L1104 764.88 L1104.7 764.72 L1105.4 762.92 L1106.1 761.6 L1106.8 761.41 L1107.5 761.15 L1108.2 760.2 L1108.65 759.79 L1109.1 758.19 L1109.55 756.14 L1110 756.1 L1110.24 755.25 L1110.48 753.88 L1110.72 751.94 L1110.96 752.11 L1111.21 750.71 L1111.45 751.25 L1111.69 751.33 L1111.93 750.39 L1112.17 747.81 L1112.41 747.01 L1112.65 746.94 L1112.89 746.33 L1113.14 744.41 L1113.38 743.73 L1113.62 744.49 L1113.86 742 L1114.1 741.2 L1114.36 739.97 L1114.62 739.5 L1114.88 738.93 L1115.15 736.92 L1115.41 736.56 L1115.67 735.03 L1115.93 734.76 L1116.19 735.38 L1116.45 733.69 L1116.72 732.21 L1116.98 730.73 L1117.24 730.27 L1117.5 729.6 L1117.59 729.41 L1117.68 727.36 L1117.77 727.85 L1117.86 724.95 L1117.94 724.79 L1118.03 725.29 L1118.12 721.74 L1118.21 723.05 L1118.3 720 L1118.39 720.31 L1118.48 719.33 L1118.57 719.11 L1118.66 716.07 L1118.74 715.35 L1118.83 715.37 L1118.92 714.87 L1119.01 713.3 L1119.1 713 L1119.22 713.79 L1119.34 714.06 L1119.46 715.55 L1119.59 716.18 L1119.71 717.89 L1119.83 719.06 L1119.95 720.6 L1120.07 720.08 L1120.19 721.26 L1120.31 722.46 L1120.44 723.16 L1120.56 724.28 L1120.68 724.16 L1120.8 726.2 L1120.86 727.41 L1120.91 727.46 L1120.97 728.38 L1121.03 728.89 L1121.09 731.76 L1121.14 731.8 L1121.2 733.65 L1121.26 733.99 L1121.31 733.56 L1121.37 734.94 L1121.43 737.18 L1121.49 737.06 L1121.54 737.79 L1121.6 739.5 L1121.69 740.3 L1121.79 741.22 L1121.88 741.56 L1121.98 742.96 L1122.07 743.78 L1122.17 743.49 L1122.26 746.31 L1122.36 746.31 L1122.45 748.71 L1122.54 747.92 L1122.64 748.54 L1122.73 751.4 L1122.83 750.38 L1122.92 751.97 L1123.02 753.75 L1123.11 754.02 L1123.21 754.02 L1123.3 756.1 L1123.71 755.41 L1124.12 754.31 L1124.54 754.52 L1124.95 753.21 L1125.36 753.51 L1125.77 750 L1126.19 750.31 L1126.6 749.5 L1126.74 747.83 L1126.88 748.46 L1127.02 747.31 L1127.16 746.34 L1127.29 744.34 L1127.43 743.45 L1127.57 741.62 L1127.71 743.32 L1127.85 741.56 L1127.99 740.1 L1128.13 740.01 L1128.27 738.96 L1128.41 738.19 L1128.54 735.45 L1128.68 735.17 L1128.82 734.88 L1128.96 734.07 L1129.1 732.9 L1129.15 732.66 L1129.2 730.37 L1129.25 730.26 L1129.31 730.8 L1129.36 728.84 L1129.41 728.05 L1129.46 726.52 L1129.51 726.16 L1129.56 725.98 L1129.62 723.88 L1129.67 723.75 L1129.72 721.37 L1129.77 721.49 L1129.82 720.8 L1129.87 718.73 L1129.93 719.11 L1129.98 716.96 L1130.03 715.96 L1130.08 715.62 L1130.13 716.06 L1130.18 714.01 L1130.24 713.54 L1130.29 711.47 L1130.34 711.12 L1130.39 709.33 L1130.44 708.85 L1130.49 708.92 L1130.55 707.4 L1130.6 707.54 L1130.65 705.47 L1130.7 704.7 L1130.85 703.65 L1131.01 703.78 L1131.16 701.52 L1131.32 700 L1131.47 701.07 L1131.63 699.54 L1131.78 696.82 L1131.94 697.46 L1132.09 696.24 L1132.25 696.83 L1132.4 694.7 L1132.52 693.3 L1132.65 692.51 L1132.77 691.39 L1132.89 690.39 L1133.02 689.75 L1133.14 688.34 L1133.26 687.73 L1133.38 686.44 L1133.51 685.62 L1133.63 684.69 L1133.75 684.52 L1133.88 683.51 L1134 683.1 L1134.12 681.3 L1134.24 681.55 L1134.36 680.24 L1134.49 679.03 L1134.61 678.06 L1134.73 678.56 L1134.85 676.67 L1134.97 675.89 L1135.09 673.07 L1135.21 673.21 L1135.34 671.21 L1135.46 671.49 L1135.58 671.1 L1135.7 669.9 L1135.7 668.47 L1135.7 668.35 L1135.7 666.31 L1135.7 666.47 L1135.7 664.03 L1135.7 663.97 L1135.7 663.2 L1135.73 664.41 L1135.76 665.41 L1135.78 665.86 L1135.81 668.23 L1135.84 667.5 L1135.87 668.39 L1135.89 668.08 L1135.92 671.78 L1135.95 671.2 L1135.98 671.55 L1136 674.21 L1136.03 675.07 L1136.06 675.2 L1136.09 675.04 L1136.11 677.25 L1136.14 677.44 L1136.17 677.97 L1136.2 680.44 L1136.22 679.13 L1136.25 681.94 L1136.28 682.78 L1136.31 684.82 L1136.33 684.52 L1136.36 683.77 L1136.39 685.55 L1136.42 687.09 L1136.44 688.21 L1136.47 689.57 L1136.5 689.8 L1136.53 689.35 L1136.57 691.41 L1136.6 693.23 L1136.63 694.55 L1136.67 695.7 L1136.7 695.04 L1136.73 697 L1136.77 698.35 L1136.8 698.91 L1136.83 699.49 L1136.87 700.48 L1136.9 700.27 L1136.93 700.73 L1136.97 703.35 L1137 703.33 L1137.03 704.48 L1137.07 705.01 L1137.1 706.06 L1137.13 707.41 L1137.17 707.46 L1137.2 709.14 L1137.23 710.18 L1137.27 710.87 L1137.3 711.32 L1137.33 713.31 L1137.37 714.99 L1137.4 714.6 L1137.44 715.09 L1137.48 717.29 L1137.52 717.97 L1137.56 716.72 L1137.6 718.64 L1137.64 719.64 L1137.68 721.55 L1137.72 722.05 L1137.76 723.17 L1137.8 724.2 L1137.84 724.04 L1137.88 725.06 L1137.92 725.64 L1137.96 727.29 L1138 728.24 L1138.04 729.36 L1138.08 729.65 L1138.12 731.7 L1138.16 732.63 L1138.2 732.9 L1138.25 734.91 L1138.3 735.26 L1138.35 735.82 L1138.4 737.1 L1138.45 737.98 L1138.5 738.03 L1138.55 740.32 L1138.6 741.55 L1138.65 742.67 L1138.7 742.24 L1138.75 743.37 L1138.8 744.37 L1138.85 745 L1138.9 746.37 L1138.95 746.78 L1139 747.8 L1139.83 748.14 L1140.66 749.97 L1141.49 749.33 L1142.31 749.73 L1143.14 750.77 L1143.97 750.73 L1144.8 751.1 L1145.72 751.13 L1146.64 750.7 L1147.57 749.71 L1148.49 750.37 L1149.41 749.42 L1150.33 750.18 L1151.26 749.03 L1152.18 750.32 L1153.1 749.5 L1153.94 749.61 L1154.77 748.87 L1155.61 748.19 L1156.45 748.14 L1157.29 746.06 L1158.12 746.26 L1158.96 746.51 L1159.8 746.2 L1160.27 745.61 L1160.74 744.47 L1161.21 742.99 L1161.69 742.95 L1162.16 741.7 L1162.63 740.44 L1163.1 740.58 L1163.57 739.37 L1164.04 739.52 L1164.51 738.31 L1164.99 737.52 L1165.46 736.4 L1165.93 734.74 L1166.4 734.5 L1166.58 732.93 L1166.77 731.64 L1166.95 733.29 L1167.13 730.08 L1167.32 729.77 L1167.5 728.75 L1167.68 727.89 L1167.87 726.76 L1168.05 724.94 L1168.23 724.63 L1168.42 723.44 L1168.6 723.41 L1168.78 722.1 L1168.97 721.19 L1169.15 720.9 L1169.33 719.43 L1169.52 719.57 L1169.7 718 L1170.02 716.83 L1170.35 716.36 L1170.67 714.37 L1170.99 714.86 L1171.32 713.22 L1171.64 712.89 L1171.96 711.93 L1172.28 710.68 L1172.61 710.05 L1172.93 708.73 L1173.25 709.04 L1173.58 707.85 L1173.9 706.3 L1174.05 705.71 L1174.2 703.61 L1174.35 702.74 L1174.5 702.11 L1174.65 701.47 L1174.8 701.03 L1174.95 699.15 L1175.1 699.67 L1175.25 697.92 L1175.4 695.58 L1175.55 695.72 L1175.7 693.59 L1175.85 693.67 L1176 692.88 L1176.15 691.9 L1176.3 691.4 L1176.35 692.09 L1176.39 692.95 L1176.43 693.73 L1176.48 696.11 L1176.53 696.83 L1176.57 696.09 L1176.62 698.68 L1176.66 697.59 L1176.7 699.06 L1176.75 701.62 L1176.8 699.93 L1176.84 702.78 L1176.88 702.42 L1176.93 704.11 L1176.97 705 L1177.02 707.23 L1177.07 706.39 L1177.11 707.82 L1177.15 709.22 L1177.2 709.7 L1177.24 710.44 L1177.29 710.96 L1177.33 712.41 L1177.38 713.43 L1177.42 714.9 L1177.47 714.54 L1177.51 715.8 L1177.56 717.26 L1177.6 717.83 L1177.64 718.74 L1177.69 719.77 L1177.73 720.21 L1177.78 721.06 L1177.82 722.84 L1177.87 722.68 L1177.91 725.18 L1177.96 725.44 L1178 726.2 L1178.12 726.26 L1178.24 728.3 L1178.36 729.17 L1178.49 730.53 L1178.61 731.76 L1178.73 731.64 L1178.85 732.35 L1178.97 733.38 L1179.09 734.06 L1179.21 735.18 L1179.34 736.85 L1179.46 737.61 L1179.58 738.21 L1179.7 739.5 L1180.11 739.82 L1180.53 741.42 L1180.94 741.66 L1181.35 742.12 L1181.76 743.58 L1182.17 744.34 L1182.59 744.61 L1183 746.2 L1183.29 745.9 L1183.59 745.03 L1183.88 743.58 L1184.18 742.76 L1184.47 742.16 L1184.76 740.88 L1185.06 740.65 L1185.35 740.3 L1185.65 738.32 L1185.94 737.68 L1186.24 737.11 L1186.53 735.38 L1186.82 733.94 L1187.12 734.48 L1187.41 731.87 L1187.71 733.33 L1188 731.2 L1188.49 730.98 L1188.98 729.67 L1189.47 728.75 L1189.96 729.11 L1190.45 726.39 L1190.94 725.41 L1191.43 724.97 L1191.92 724.38 L1192.41 723.03 L1192.9 722.9 L1193.02 722.06 L1193.14 721.11 L1193.26 719.5 L1193.39 720.25 L1193.51 717.21 L1193.63 716.35 L1193.75 716.56 L1193.87 715.21 L1193.99 714.71 L1194.11 713.04 L1194.24 711.81 L1194.36 711.13 L1194.48 710.16 L1194.6 709.7 L1194.73 709.18 L1194.86 707.58 L1194.99 707.56 L1195.12 706.54 L1195.25 705.97 L1195.38 704.98 L1195.52 704 L1195.65 703.1 L1195.78 701.31 L1195.91 700.59 L1196.04 698.6 L1196.17 699.2 L1196.3 698.1 L1196.62 696.73 L1196.93 696.58 L1197.25 695.77 L1197.56 693.55 L1197.88 692.89 L1198.19 692.46 L1198.51 691.44 L1198.82 691.02 L1199.14 689.19 L1199.45 689.13 L1199.77 687.02 L1200.08 685.79 L1200.4 686.4 L1200.45 685.97 L1200.5 683.62 L1200.55 683.21 L1200.6 681.68 L1200.65 680.76 L1200.7 680.53 L1200.75 679.59 L1200.8 679.64 L1200.85 678.33 L1200.9 676.9 L1200.95 676.69 L1201 676.01 L1201.05 674.58 L1201.1 673.08 L1201.15 673.14 L1201.2 671.5 L1201.29 673.66 L1201.39 673.81 L1201.48 675.51 L1201.58 675.84 L1201.67 676.71 L1201.77 676.27 L1201.86 677.18 L1201.96 678.84 L1202.05 678.63 L1202.14 680.31 L1202.24 682.25 L1202.33 682.1 L1202.43 683.86 L1202.52 683.47 L1202.62 684.99 L1202.71 686.97 L1202.81 687.32 L1202.9 688.1 L1203.32 687.47 L1203.73 687.63 L1204.15 686.51 L1204.57 684.15 L1204.98 684.86 L1205.4 682.67 L1205.82 682.25 L1206.23 681.44 L1206.65 681.35 L1207.07 678.98 L1207.48 679.25 L1207.9 678.1 L1208.15 677.57 L1208.41 676.88 L1208.66 675.28 L1208.92 675.23 L1209.17 673.14 L1209.42 673.55 L1209.68 672.1 L1209.93 669.98 L1210.18 670.35 L1210.44 669.3 L1210.69 668.04 L1210.95 666.88 L1211.2 666.5 L1211.34 667.25 L1211.48 667.33 L1211.62 670.45 L1211.76 669.4 L1211.89 670.65 L1212.03 672.83 L1212.17 673.37 L1212.31 674.38 L1212.45 675.86 L1212.59 675.5 L1212.73 675.91 L1212.87 678.16 L1213.01 679.05 L1213.14 679.18 L1213.28 679.45 L1213.42 682.12 L1213.56 682.58 L1213.7 683.1 L1213.88 683.06 L1214.07 685.49 L1214.25 684.86 L1214.43 686.45 L1214.62 686.92 L1214.8 688.19 L1214.98 688.97 L1215.17 690.05 L1215.35 691.91 L1215.53 692.53 L1215.72 693.68 L1215.9 694.93 L1216.08 694.83 L1216.27 696.07 L1216.45 697.31 L1216.63 699.05 L1216.82 699.41 L1217 699.7 L1217.1 701.6 L1217.2 702.28 L1217.3 703.23 L1217.4 702.18 L1217.5 704.97 L1217.6 705.44 L1217.7 706.26 L1217.8 706.78 L1217.9 707.78 L1218 709.3 L1218.1 710.53 L1218.2 709.83 L1218.3 711.96 L1218.4 712.35 L1218.5 713 L1218.6 714.6 L1218.65 715.8 L1218.7 716.21 L1218.75 716.91 L1218.8 717.75 L1218.85 719.41 L1218.9 720.13 L1218.95 720.29 L1219 721.39 L1219.05 722.77 L1219.1 724.11 L1219.15 724.01 L1219.2 726.01 L1219.25 726.01 L1219.3 729.05 L1219.35 727.77 L1219.4 728.8 L1219.45 730.41 L1219.5 731.2 L1219.61 731.52 L1219.73 733.68 L1219.84 735.31 L1219.96 734.73 L1220.07 736.07 L1220.19 736.54 L1220.3 737.85 L1220.41 739.8 L1220.53 740.38 L1220.64 740.07 L1220.76 742.73 L1220.87 743.41 L1220.99 743.89 L1221.1 744.5 L1221.62 743.21 L1222.15 742.9 L1222.67 741.47 L1223.2 741.53 L1223.72 740.15 L1224.25 738.01 L1224.77 739.37 L1225.3 737.9 L1225.46 737.1 L1225.61 736.78 L1225.77 734.99 L1225.92 734.28 L1226.08 733.99 L1226.24 732.55 L1226.39 731.54 L1226.55 731.94 L1226.71 729.34 L1226.86 728.64 L1227.02 728.8 L1227.17 726.09 L1227.33 724.98 L1227.49 723.77 L1227.64 724.21 L1227.8 722.9 L1227.91 722.4 L1228.03 721.53 L1228.14 719.12 L1228.26 719.83 L1228.37 719.02 L1228.49 717.17 L1228.6 716.32 L1228.71 715.83 L1228.83 714.67 L1228.94 713.92 L1229.06 711.77 L1229.17 711.46 L1229.29 709.79 L1229.4 709.7 L1229.51 709.2 L1229.61 708.2 L1229.72 706.82 L1229.83 706.16 L1229.93 703.92 L1230.04 704.68 L1230.14 702.81 L1230.25 702.29 L1230.36 702.04 L1230.46 699.8 L1230.57 700.23 L1230.67 698.54 L1230.78 697.53 L1230.89 696.96 L1230.99 694.76 L1231.1 694.7 L1231.15 694.18 L1231.2 692.88 L1231.25 692.63 L1231.3 690.82 L1231.35 689.79 L1231.4 689.37 L1231.45 688.14 L1231.5 686.43 L1231.55 686.18 L1231.6 686.27 L1231.65 684.39 L1231.7 682.92 L1231.75 683.09 L1231.8 680.37 L1231.85 679.25 L1231.9 679.8 L1232.22 678.9 L1232.55 678.14 L1232.87 677.28 L1233.19 675.61 L1233.52 675.23 L1233.84 673.47 L1234.16 673.71 L1234.48 671.53 L1234.81 671.66 L1235.13 671.06 L1235.45 668.75 L1235.78 668.73 L1236.1 668.2 L1236.65 667.92 L1237.2 667.62 L1237.75 664.65 L1238.3 665.1 L1238.85 663.17 L1239.4 663.2 L1239.46 661.32 L1239.51 662.43 L1239.57 660.84 L1239.63 658.87 L1239.69 658.64 L1239.74 657.99 L1239.8 656.73 L1239.86 657.2 L1239.91 655.14 L1239.97 652.23 L1240.03 652.63 L1240.09 651.37 L1240.14 650.8 L1240.2 650" fill="none" stroke="#000" stroke-width="3.1" stroke-linejoin="round" stroke-dasharray="5 9" stroke-dashoffset="5.43" stroke-linecap="round"/>
<path d="M1554.9 111.8 L1563.9 111.8 L1563.9 405.1" fill="none" stroke="#000" stroke-width="2.9" stroke-linejoin="miter"/>
<path d="M1554.9 346.44 L1563.9 346.44" stroke="#000" stroke-width="2.9"/>
<path d="M1554.9 287.78 L1563.9 287.78" stroke="#000" stroke-width="2.9"/>
<path d="M1554.9 229.12 L1563.9 229.12" stroke="#000" stroke-width="2.9"/>
<path d="M1554.9 170.46 L1563.9 170.46" stroke="#000" stroke-width="2.9"/>
<path d="M1554.9 405.1 L2006.2 405.1" stroke="#000" stroke-width="2.9"/>
<path d="M1618.8 405.1 L1618.8 413.9" stroke="#000" stroke-width="2.9"/>
<path d="M1728.8 405.1 L1728.8 413.9" stroke="#000" stroke-width="2.9"/>
<path d="M1838.8 405.1 L1838.8 413.9" stroke="#000" stroke-width="2.9"/>
<path d="M1948.8 405.1 L1948.8 413.9" stroke="#000" stroke-width="2.9"/>
<text font-size="22" font-weight="bold" text-anchor="end" transform="translate(1552.2 413) scale(1 1.045)">0</text>
<text font-size="22" font-weight="bold" text-anchor="end" transform="translate(1552.2 354.34) scale(1 1.045)">100</text>
<text font-size="22" font-weight="bold" text-anchor="end" transform="translate(1552.2 295.68) scale(1 1.045)">200</text>
<text font-size="22" font-weight="bold" text-anchor="end" transform="translate(1552.2 237.02) scale(1 1.045)">300</text>
<text font-size="22" font-weight="bold" text-anchor="end" transform="translate(1552.2 178.36) scale(1 1.045)">400</text>
<text font-size="22" font-weight="bold" text-anchor="end" transform="translate(1552.2 119.7) scale(1 1.045)">500</text>
<text font-size="22" font-weight="bold" text-anchor="middle" transform="translate(1618.8 437.3) scale(1 1.045)">1</text>
<text font-size="22" font-weight="bold" text-anchor="middle" transform="translate(1728.8 437.3) scale(1 1.045)">2</text>
<text font-size="22" font-weight="bold" text-anchor="middle" transform="translate(1838.8 437.3) scale(1 1.045)">3</text>
<text font-size="22" font-weight="bold" text-anchor="middle" transform="translate(1948.8 437.3) scale(1 1.045)">4</text>
<text font-size="24" font-weight="bold" text-anchor="middle" transform="translate(1500.5 258.5) rotate(-90) scale(1 1.045)">AUC</text>
<path d="M1585.75 405.1 L1585.75 158.8 L1610.35 158.8 L1610.35 405.1" fill="none" stroke="#000" stroke-width="2.9" stroke-linejoin="miter"/>
<path d="M1598.05 156.8 L1598.05 160.8 M1591.25 156.8 L1604.85 156.8 M1591.25 160.8 L1604.85 160.8" stroke="#000" stroke-width="2.6"/>
<circle cx="1598.05" cy="157.1" r="3.2" fill="#000"/>
<circle cx="1598.05" cy="157.8" r="3.2" fill="#000"/>
<circle cx="1598.05" cy="158.5" r="3.2" fill="#000"/>
<path d="M1627.25 405.1 L1627.25 320.8 L1651.85 320.8 L1651.85 405.1" fill="none" stroke="#000" stroke-width="2.9" stroke-linejoin="miter"/>
<path d="M1639.55 292 L1639.55 347.6 M1632.75 292 L1646.35 292 M1632.75 347.6 L1646.35 347.6" stroke="#000" stroke-width="2.6"/>
<circle cx="1639.55" cy="273.4" r="3.2" fill="#000"/>
<circle cx="1639.55" cy="316.2" r="3.2" fill="#000"/>
<circle cx="1639.55" cy="369.2" r="3.2" fill="#000"/>
<path d="M1695.75 405.1 L1695.75 168.8 L1720.35 168.8 L1720.35 405.1" fill="none" stroke="#000" stroke-width="2.9" stroke-linejoin="miter"/>
<path d="M1708.05 163.7 L1708.05 172 M1701.25 163.7 L1714.85 163.7 M1701.25 172 L1714.85 172" stroke="#000" stroke-width="2.6"/>
<circle cx="1708.05" cy="159.9" r="3.2" fill="#000"/>
<circle cx="1708.05" cy="168.5" r="3.2" fill="#000"/>
<circle cx="1708.05" cy="174" r="3.2" fill="#000"/>
<path d="M1737.25 405.1 L1737.25 180.7 L1761.85 180.7 L1761.85 405.1" fill="none" stroke="#000" stroke-width="2.9" stroke-linejoin="miter"/>
<path d="M1749.55 170.5 L1749.55 188.2 M1742.75 170.5 L1756.35 170.5 M1742.75 188.2 L1756.35 188.2" stroke="#000" stroke-width="2.6"/>
<circle cx="1749.55" cy="162.4" r="3.2" fill="#000"/>
<circle cx="1749.55" cy="182.7" r="3.2" fill="#000"/>
<circle cx="1749.55" cy="192.7" r="3.2" fill="#000"/>
<path d="M1805.75 405.1 L1805.75 155.5 L1830.35 155.5 L1830.35 405.1" fill="none" stroke="#000" stroke-width="2.9" stroke-linejoin="miter"/>
<path d="M1818.05 148.6 L1818.05 159.9 M1811.25 148.6 L1824.85 148.6 M1811.25 159.9 L1824.85 159.9" stroke="#000" stroke-width="2.6"/>
<circle cx="1818.05" cy="143.2" r="3.2" fill="#000"/>
<circle cx="1818.05" cy="157" r="3.2" fill="#000"/>
<circle cx="1818.05" cy="159.8" r="3.2" fill="#000"/>
<path d="M1847.25 405.1 L1847.25 148.6 L1871.85 148.6 L1871.85 405.1" fill="none" stroke="#000" stroke-width="2.9" stroke-linejoin="miter"/>
<path d="M1859.55 144.8 L1859.55 150 M1852.75 144.8 L1866.35 144.8 M1852.75 150 L1866.35 150" stroke="#000" stroke-width="2.6"/>
<circle cx="1859.55" cy="143.7" r="3.2" fill="#000"/>
<circle cx="1859.55" cy="148" r="3.2" fill="#000"/>
<circle cx="1859.55" cy="150.3" r="3.2" fill="#000"/>
<path d="M1915.75 405.1 L1915.75 267.6 L1940.35 267.6 L1940.35 405.1" fill="none" stroke="#000" stroke-width="2.9" stroke-linejoin="miter"/>
<path d="M1928.05 251.5 L1928.05 281 M1921.25 251.5 L1934.85 251.5 M1921.25 281 L1934.85 281" stroke="#000" stroke-width="2.6"/>
<circle cx="1928.05" cy="247.3" r="3.2" fill="#000"/>
<circle cx="1928.05" cy="255.2" r="3.2" fill="#000"/>
<circle cx="1928.05" cy="295" r="3.2" fill="#000"/>
<path d="M1957.25 405.1 L1957.25 400.9 L1981.85 400.9 L1981.85 405.1" fill="none" stroke="#000" stroke-width="2.9" stroke-linejoin="miter"/>
<path d="M1969.55 396.2 L1969.55 404.5 M1962.75 396.2 L1976.35 396.2 M1962.75 404.5 L1976.35 404.5" stroke="#000" stroke-width="2.6"/>
<circle cx="1969.55" cy="392.4" r="3.2" fill="#000"/>
<circle cx="1969.55" cy="404.6" r="3.2" fill="#000"/>
<circle cx="1969.55" cy="405" r="3.2" fill="#000"/>
<text font-size="23" text-anchor="middle" transform="translate(1640.4 260.2) scale(1 1.045)">*</text>
<text font-size="23" text-anchor="middle" transform="translate(1969.8 380.9) scale(1 1.045)">*</text>
<rect x="526.77" y="430.55" width="5.04" height="4.02" fill="#fff"/>
<rect x="535.04" y="430.55" width="4.49" height="4.02" fill="#fff"/>
<rect x="311.54" y="67.35" width="6.64" height="5.3" fill="#fff"/>
<rect x="322.44" y="67.35" width="5.92" height="5.3" fill="#fff"/>
<rect x="1257.97" y="434.35" width="5.04" height="4.02" fill="#fff"/>
<rect x="1266.24" y="434.35" width="4.49" height="4.02" fill="#fff"/>
<rect x="526.77" y="922.25" width="5.04" height="4.02" fill="#fff"/>
<rect x="535.04" y="922.25" width="4.49" height="4.02" fill="#fff"/>
<rect x="1261.27" y="921.65" width="5.04" height="4.02" fill="#fff"/>
<rect x="1269.54" y="921.65" width="4.49" height="4.02" fill="#fff"/>
<rect x="1612.68" y="433.85" width="5.04" height="4.02" fill="#fff"/>
<rect x="1620.96" y="433.85" width="4.49" height="4.02" fill="#fff"/>
<rect x="1515.5" y="350.89" width="5.04" height="4.02" fill="#fff"/>
<rect x="1523.78" y="350.89" width="4.49" height="4.02" fill="#fff"/>
</svg>
</body></html>
